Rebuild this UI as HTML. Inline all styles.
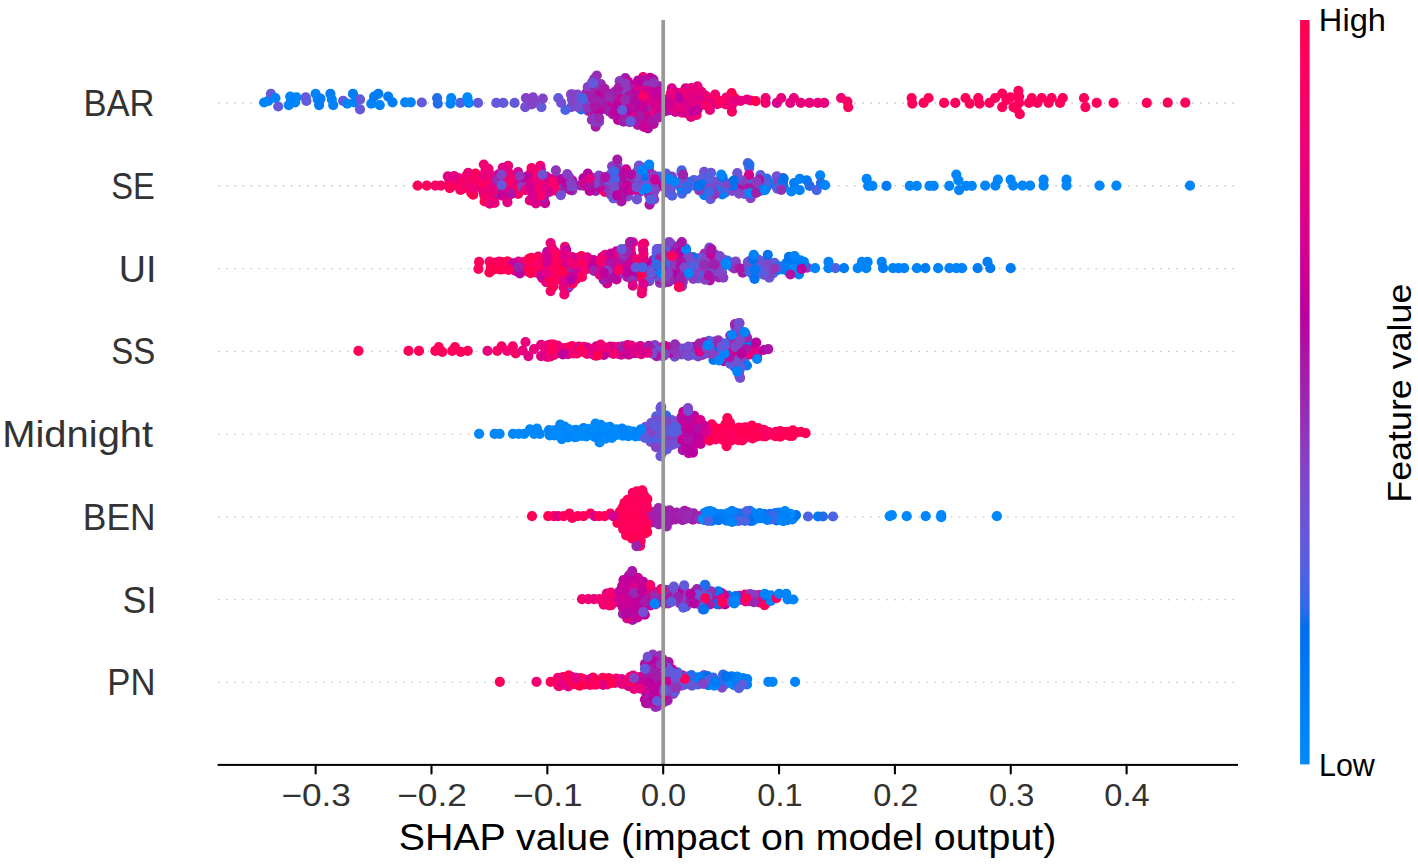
<!DOCTYPE html>
<html><head><meta charset="utf-8"><style>
html,body{margin:0;padding:0;background:#fff;}
svg{display:block;}
text{font-family:"Liberation Sans",sans-serif;}
circle{r:5.1px;}
</style></head><body>
<svg width="1418" height="866" viewBox="0 0 1418 866">
<defs><linearGradient id="cb" x1="0" y1="1" x2="0" y2="0">
<stop offset="0.000" stop-color="#008bfb"/>
<stop offset="0.030" stop-color="#0086fa"/>
<stop offset="0.061" stop-color="#0082f8"/>
<stop offset="0.091" stop-color="#007ef6"/>
<stop offset="0.121" stop-color="#0079f3"/>
<stop offset="0.152" stop-color="#0074f0"/>
<stop offset="0.182" stop-color="#006fed"/>
<stop offset="0.212" stop-color="#306ae9"/>
<stop offset="0.242" stop-color="#4664e4"/>
<stop offset="0.273" stop-color="#575fdf"/>
<stop offset="0.303" stop-color="#6459da"/>
<stop offset="0.333" stop-color="#6f52d4"/>
<stop offset="0.364" stop-color="#794cce"/>
<stop offset="0.394" stop-color="#8244c7"/>
<stop offset="0.424" stop-color="#8a3cc0"/>
<stop offset="0.455" stop-color="#9233b9"/>
<stop offset="0.485" stop-color="#9829b1"/>
<stop offset="0.515" stop-color="#a01fab"/>
<stop offset="0.545" stop-color="#aa17a7"/>
<stop offset="0.576" stop-color="#b30aa3"/>
<stop offset="0.606" stop-color="#bc009f"/>
<stop offset="0.636" stop-color="#c5009a"/>
<stop offset="0.667" stop-color="#cd0095"/>
<stop offset="0.697" stop-color="#d40090"/>
<stop offset="0.727" stop-color="#db008a"/>
<stop offset="0.758" stop-color="#e10084"/>
<stop offset="0.788" stop-color="#e7007e"/>
<stop offset="0.818" stop-color="#ec0078"/>
<stop offset="0.848" stop-color="#f10072"/>
<stop offset="0.879" stop-color="#f6006c"/>
<stop offset="0.909" stop-color="#fa0065"/>
<stop offset="0.939" stop-color="#fd005f"/>
<stop offset="0.970" stop-color="#ff0058"/>
<stop offset="1.000" stop-color="#ff0051"/>
<stop offset="1" stop-color="#ff0051"/>
</linearGradient></defs>
<line x1="218.3" y1="103.00" x2="1238" y2="103.00" stroke="#c8c8c8" stroke-width="1.3" stroke-dasharray="1.6 6.448"/>
<line x1="218.3" y1="185.77" x2="1238" y2="185.77" stroke="#c8c8c8" stroke-width="1.3" stroke-dasharray="1.6 6.448"/>
<line x1="218.3" y1="268.54" x2="1238" y2="268.54" stroke="#c8c8c8" stroke-width="1.3" stroke-dasharray="1.6 6.448"/>
<line x1="218.3" y1="351.31" x2="1238" y2="351.31" stroke="#c8c8c8" stroke-width="1.3" stroke-dasharray="1.6 6.448"/>
<line x1="218.3" y1="434.08" x2="1238" y2="434.08" stroke="#c8c8c8" stroke-width="1.3" stroke-dasharray="1.6 6.448"/>
<line x1="218.3" y1="516.85" x2="1238" y2="516.85" stroke="#c8c8c8" stroke-width="1.3" stroke-dasharray="1.6 6.448"/>
<line x1="218.3" y1="599.62" x2="1238" y2="599.62" stroke="#c8c8c8" stroke-width="1.3" stroke-dasharray="1.6 6.448"/>
<line x1="218.3" y1="682.39" x2="1238" y2="682.39" stroke="#c8c8c8" stroke-width="1.3" stroke-dasharray="1.6 6.448"/>
<g><circle cx="594.1" cy="113.0" r="5.1" fill="#8d39bd"/><circle cx="697.5" cy="86.4" r="5.1" fill="#ea007b"/><circle cx="750.6" cy="100.5" r="5.1" fill="#fb0062"/><circle cx="711.6" cy="98.8" r="5.1" fill="#f80068"/><circle cx="658.4" cy="86.2" r="5.1" fill="#a11fab"/><circle cx="605.3" cy="94.3" r="5.1" fill="#9d21ac"/><circle cx="595.1" cy="94.6" r="5.1" fill="#ac14a6"/><circle cx="650.2" cy="77.9" r="5.1" fill="#bc009f"/><circle cx="586.6" cy="92.5" r="5.1" fill="#a71aa9"/><circle cx="593.6" cy="92.4" r="5.1" fill="#ad14a6"/><circle cx="685.2" cy="98.6" r="5.1" fill="#dd0089"/><circle cx="653.6" cy="123.8" r="5.1" fill="#b10da4"/><circle cx="643.3" cy="121.7" r="5.1" fill="#ce0094"/><circle cx="633.0" cy="110.9" r="5.1" fill="#ad13a6"/><circle cx="715.2" cy="100.6" r="5.1" fill="#e9007c"/><circle cx="592.2" cy="87.0" r="5.1" fill="#9829b1"/><circle cx="571.9" cy="99.6" r="5.1" fill="#6b55d7"/><circle cx="657.2" cy="106.9" r="5.1" fill="#bb00a0"/><circle cx="681.9" cy="102.3" r="5.1" fill="#de0087"/><circle cx="628.3" cy="91.2" r="5.1" fill="#9a25ae"/><circle cx="606.0" cy="109.3" r="5.1" fill="#9a25ae"/><circle cx="731.9" cy="111.6" r="5.1" fill="#fd005f"/><circle cx="615.4" cy="101.6" r="5.1" fill="#ca0097"/><circle cx="573.2" cy="94.7" r="5.1" fill="#7e48cb"/><circle cx="617.9" cy="114.0" r="5.1" fill="#bf009d"/><circle cx="596.9" cy="116.2" r="5.1" fill="#8b3bbf"/><circle cx="647.6" cy="105.4" r="5.1" fill="#9d22ac"/><circle cx="599.7" cy="106.9" r="5.1" fill="#9332b7"/><circle cx="639.9" cy="111.8" r="5.1" fill="#b507a2"/><circle cx="717.0" cy="104.1" r="5.1" fill="#e7007e"/><circle cx="598.0" cy="90.9" r="5.1" fill="#9430b6"/><circle cx="634.3" cy="107.3" r="5.1" fill="#c2009b"/><circle cx="709.9" cy="110.0" r="5.1" fill="#e60080"/><circle cx="643.2" cy="101.2" r="5.1" fill="#bb009f"/><circle cx="595.7" cy="126.6" r="5.1" fill="#a819a8"/><circle cx="581.6" cy="103.9" r="5.1" fill="#8a3dc1"/><circle cx="680.7" cy="107.9" r="5.1" fill="#de0087"/><circle cx="663.9" cy="111.7" r="5.1" fill="#cf0093"/><circle cx="654.5" cy="107.7" r="5.1" fill="#b10da4"/><circle cx="649.6" cy="123.0" r="5.1" fill="#af11a5"/><circle cx="650.2" cy="112.1" r="5.1" fill="#9e21ac"/><circle cx="658.3" cy="95.5" r="5.1" fill="#b30aa3"/><circle cx="654.9" cy="94.0" r="5.1" fill="#bf009d"/><circle cx="591.9" cy="119.9" r="5.1" fill="#9331b6"/><circle cx="595.0" cy="109.5" r="5.1" fill="#7a4bcd"/><circle cx="642.8" cy="110.7" r="5.1" fill="#b30ba3"/><circle cx="732.3" cy="103.0" r="5.1" fill="#e50080"/><circle cx="649.0" cy="95.1" r="5.1" fill="#b20da4"/><circle cx="677.1" cy="92.9" r="5.1" fill="#cd0094"/><circle cx="620.3" cy="110.1" r="5.1" fill="#cd0094"/><circle cx="608.6" cy="103.1" r="5.1" fill="#9430b6"/><circle cx="596.6" cy="100.3" r="5.1" fill="#952db4"/><circle cx="705.1" cy="101.0" r="5.1" fill="#fd005f"/><circle cx="647.9" cy="128.5" r="5.1" fill="#b10da4"/><circle cx="662.8" cy="100.1" r="5.1" fill="#b703a1"/><circle cx="571.2" cy="107.2" r="5.1" fill="#784cce"/><circle cx="649.8" cy="117.4" r="5.1" fill="#d20091"/><circle cx="587.7" cy="87.1" r="5.1" fill="#8740c3"/><circle cx="615.8" cy="106.6" r="5.1" fill="#ab16a7"/><circle cx="600.9" cy="84.2" r="5.1" fill="#942fb5"/><circle cx="642.6" cy="85.8" r="5.1" fill="#af11a5"/><circle cx="637.9" cy="119.8" r="5.1" fill="#da008b"/><circle cx="685.6" cy="88.4" r="5.1" fill="#d20091"/><circle cx="690.2" cy="102.3" r="5.1" fill="#e7007e"/><circle cx="635.6" cy="122.4" r="5.1" fill="#c90097"/><circle cx="663.9" cy="105.5" r="5.1" fill="#9f20ab"/><circle cx="595.8" cy="90.2" r="5.1" fill="#9b24ad"/><circle cx="605.8" cy="99.2" r="5.1" fill="#9b23ad"/><circle cx="681.8" cy="112.6" r="5.1" fill="#f90067"/><circle cx="653.4" cy="79.7" r="5.1" fill="#b605a2"/><circle cx="701.5" cy="91.9" r="5.1" fill="#e8007e"/><circle cx="608.3" cy="107.0" r="5.1" fill="#cb0096"/><circle cx="577.7" cy="94.7" r="5.1" fill="#7e48cb"/><circle cx="618.8" cy="94.0" r="5.1" fill="#bf009d"/><circle cx="588.4" cy="110.8" r="5.1" fill="#a11eab"/><circle cx="685.9" cy="112.9" r="5.1" fill="#c60099"/><circle cx="709.5" cy="104.3" r="5.1" fill="#d8008c"/><circle cx="639.8" cy="85.1" r="5.1" fill="#b900a0"/><circle cx="668.5" cy="110.4" r="5.1" fill="#af10a5"/><circle cx="618.1" cy="120.0" r="5.1" fill="#bf009d"/><circle cx="624.8" cy="95.4" r="5.1" fill="#b506a2"/><circle cx="682.2" cy="92.7" r="5.1" fill="#ec0079"/><circle cx="643.1" cy="77.2" r="5.1" fill="#eb007a"/><circle cx="695.3" cy="98.5" r="5.1" fill="#e7007e"/><circle cx="628.5" cy="117.3" r="5.1" fill="#b802a1"/><circle cx="634.8" cy="85.9" r="5.1" fill="#d8008c"/><circle cx="625.3" cy="78.1" r="5.1" fill="#a51ba9"/><circle cx="596.8" cy="75.5" r="5.1" fill="#952eb5"/><circle cx="622.8" cy="111.5" r="5.1" fill="#d7008d"/><circle cx="577.9" cy="106.2" r="5.1" fill="#6857d8"/><circle cx="618.4" cy="103.8" r="5.1" fill="#b703a1"/><circle cx="705.6" cy="95.5" r="5.1" fill="#f10073"/><circle cx="609.8" cy="111.7" r="5.1" fill="#9b24ad"/><circle cx="652.4" cy="119.4" r="5.1" fill="#ab16a7"/><circle cx="620.4" cy="98.6" r="5.1" fill="#ce0094"/><circle cx="692.8" cy="96.3" r="5.1" fill="#da008a"/><circle cx="595.6" cy="84.1" r="5.1" fill="#9927af"/><circle cx="628.8" cy="86.3" r="5.1" fill="#9a25ae"/><circle cx="603.2" cy="104.5" r="5.1" fill="#a819a8"/><circle cx="598.7" cy="111.3" r="5.1" fill="#c0009d"/><circle cx="630.1" cy="106.5" r="5.1" fill="#aa17a7"/><circle cx="673.1" cy="98.3" r="5.1" fill="#c90097"/><circle cx="654.8" cy="112.3" r="5.1" fill="#ea007b"/><circle cx="731.4" cy="97.6" r="5.1" fill="#f7006b"/><circle cx="581.2" cy="109.3" r="5.1" fill="#226cea"/><circle cx="595.5" cy="121.9" r="5.1" fill="#8d3abe"/><circle cx="599.1" cy="121.8" r="5.1" fill="#8b3bbf"/><circle cx="658.8" cy="112.3" r="5.1" fill="#cd0095"/><circle cx="695.0" cy="102.6" r="5.1" fill="#e10084"/><circle cx="614.8" cy="91.9" r="5.1" fill="#9927af"/><circle cx="625.5" cy="106.7" r="5.1" fill="#9828b0"/><circle cx="735.1" cy="98.4" r="5.1" fill="#fc0060"/><circle cx="656.7" cy="91.2" r="5.1" fill="#b900a0"/><circle cx="747.0" cy="99.5" r="5.1" fill="#e50081"/><circle cx="644.9" cy="80.2" r="5.1" fill="#b10fa4"/><circle cx="639.8" cy="100.1" r="5.1" fill="#cd0094"/><circle cx="612.9" cy="114.3" r="5.1" fill="#ac15a6"/><circle cx="657.3" cy="101.0" r="5.1" fill="#b900a0"/><circle cx="592.1" cy="82.4" r="5.1" fill="#8542c5"/><circle cx="614.5" cy="111.7" r="5.1" fill="#bb00a0"/><circle cx="740.6" cy="100.8" r="5.1" fill="#e8007d"/><circle cx="635.1" cy="92.6" r="5.1" fill="#c3009b"/><circle cx="675.5" cy="112.0" r="5.1" fill="#cc0095"/><circle cx="696.8" cy="91.9" r="5.1" fill="#ec0079"/><circle cx="640.5" cy="105.2" r="5.1" fill="#b506a2"/><circle cx="677.5" cy="103.1" r="5.1" fill="#da008b"/><circle cx="586.5" cy="101.3" r="5.1" fill="#9232b7"/><circle cx="613.0" cy="96.1" r="5.1" fill="#a819a8"/><circle cx="609.9" cy="94.0" r="5.1" fill="#a21eaa"/><circle cx="731.6" cy="93.0" r="5.1" fill="#ff0051"/><circle cx="629.5" cy="101.7" r="5.1" fill="#c60099"/><circle cx="647.5" cy="100.1" r="5.1" fill="#e60080"/><circle cx="725.7" cy="104.5" r="5.1" fill="#f00074"/><circle cx="699.6" cy="98.9" r="5.1" fill="#de0087"/><circle cx="591.7" cy="108.2" r="5.1" fill="#b20ca4"/><circle cx="719.6" cy="103.1" r="5.1" fill="#ed0077"/><circle cx="633.8" cy="95.8" r="5.1" fill="#b900a0"/><circle cx="655.4" cy="98.3" r="5.1" fill="#cc0095"/><circle cx="676.4" cy="107.5" r="5.1" fill="#e8007e"/><circle cx="696.6" cy="114.9" r="5.1" fill="#f5006d"/><circle cx="654.2" cy="89.3" r="5.1" fill="#c3009b"/><circle cx="628.1" cy="81.8" r="5.1" fill="#c60099"/><circle cx="668.4" cy="98.6" r="5.1" fill="#b010a5"/><circle cx="638.9" cy="89.2" r="5.1" fill="#db008a"/><circle cx="726.2" cy="97.5" r="5.1" fill="#f10072"/><circle cx="639.2" cy="95.1" r="5.1" fill="#b20ca4"/><circle cx="755.7" cy="101.2" r="5.1" fill="#ff0051"/><circle cx="675.5" cy="98.4" r="5.1" fill="#ec0079"/><circle cx="691.2" cy="106.5" r="5.1" fill="#e10084"/><circle cx="700.9" cy="105.3" r="5.1" fill="#eb007a"/><circle cx="587.2" cy="95.8" r="5.1" fill="#a21eaa"/><circle cx="644.0" cy="115.8" r="5.1" fill="#ce0094"/><circle cx="587.7" cy="107.7" r="5.1" fill="#9233b8"/><circle cx="647.7" cy="85.3" r="5.1" fill="#8f36bb"/><circle cx="628.1" cy="111.6" r="5.1" fill="#b901a0"/><circle cx="691.0" cy="116.9" r="5.1" fill="#e8007d"/><circle cx="686.3" cy="104.9" r="5.1" fill="#dc0089"/><circle cx="715.1" cy="94.6" r="5.1" fill="#f5006d"/><circle cx="598.5" cy="95.5" r="5.1" fill="#c2009b"/><circle cx="624.5" cy="117.6" r="5.1" fill="#a918a8"/><circle cx="644.8" cy="91.2" r="5.1" fill="#dd0088"/><circle cx="654.5" cy="104.2" r="5.1" fill="#d6008e"/><circle cx="697.3" cy="109.8" r="5.1" fill="#c80098"/><circle cx="624.7" cy="90.0" r="5.1" fill="#893ec1"/><circle cx="638.1" cy="80.7" r="5.1" fill="#bc009f"/><circle cx="634.6" cy="117.1" r="5.1" fill="#da008a"/><circle cx="629.1" cy="96.0" r="5.1" fill="#ad14a6"/><circle cx="686.7" cy="109.3" r="5.1" fill="#e00086"/><circle cx="648.1" cy="90.8" r="5.1" fill="#ca0097"/><circle cx="583.1" cy="99.1" r="5.1" fill="#4c63e3"/><circle cx="731.5" cy="106.6" r="5.1" fill="#f10072"/><circle cx="642.8" cy="105.3" r="5.1" fill="#c90097"/><circle cx="707.5" cy="105.9" r="5.1" fill="#f6006c"/><circle cx="604.6" cy="88.9" r="5.1" fill="#a719a8"/><circle cx="645.6" cy="97.3" r="5.1" fill="#d30090"/><circle cx="690.1" cy="91.8" r="5.1" fill="#de0088"/><circle cx="680.0" cy="97.7" r="5.1" fill="#ba00a0"/><circle cx="637.9" cy="125.0" r="5.1" fill="#ac15a6"/><circle cx="639.8" cy="116.4" r="5.1" fill="#a819a8"/><circle cx="719.4" cy="100.9" r="5.1" fill="#fd005f"/><circle cx="577.0" cy="99.9" r="5.1" fill="#744fd1"/><circle cx="691.1" cy="88.0" r="5.1" fill="#e6007f"/><circle cx="658.0" cy="117.7" r="5.1" fill="#a719a8"/><circle cx="625.3" cy="100.0" r="5.1" fill="#952eb5"/><circle cx="692.2" cy="111.5" r="5.1" fill="#c5009a"/><circle cx="593.1" cy="102.3" r="5.1" fill="#8541c5"/><circle cx="619.6" cy="81.1" r="5.1" fill="#8e38bc"/><circle cx="672.8" cy="108.4" r="5.1" fill="#e20083"/><circle cx="644.1" cy="127.0" r="5.1" fill="#cc0095"/><circle cx="598.1" cy="101.3" r="5.1" fill="#9c23ad"/><circle cx="671.1" cy="103.9" r="5.1" fill="#da008b"/><circle cx="635.0" cy="101.0" r="5.1" fill="#b408a3"/><circle cx="671.8" cy="88.4" r="5.1" fill="#d30090"/><circle cx="618.3" cy="88.0" r="5.1" fill="#a819a8"/><circle cx="629.6" cy="122.2" r="5.1" fill="#9035ba"/><circle cx="594.8" cy="106.1" r="5.1" fill="#aa16a7"/><circle cx="687.2" cy="94.8" r="5.1" fill="#e9007c"/><circle cx="670.9" cy="93.1" r="5.1" fill="#e6007f"/><circle cx="625.5" cy="83.6" r="5.1" fill="#8c3bbf"/><circle cx="592.9" cy="98.2" r="5.1" fill="#a01fab"/><circle cx="735.0" cy="101.4" r="5.1" fill="#e50080"/><circle cx="594.3" cy="78.9" r="5.1" fill="#9430b6"/><circle cx="654.0" cy="82.6" r="5.1" fill="#9331b7"/><circle cx="623.5" cy="121.7" r="5.1" fill="#9f20ab"/><circle cx="668.0" cy="102.9" r="5.1" fill="#ca0097"/><circle cx="599.1" cy="118.1" r="5.1" fill="#972ab1"/><circle cx="609.2" cy="96.8" r="5.1" fill="#9829b1"/><circle cx="264.1" cy="102.5" r="5.1" fill="#0084f9"/><circle cx="268.3" cy="100.9" r="5.1" fill="#0084f9"/><circle cx="270.9" cy="93.8" r="5.1" fill="#6359da"/><circle cx="275.4" cy="98.0" r="5.1" fill="#0084f9"/><circle cx="278.2" cy="106.5" r="5.1" fill="#6359da"/><circle cx="288.8" cy="105.1" r="5.1" fill="#0084f9"/><circle cx="290.2" cy="96.6" r="5.1" fill="#0084f9"/><circle cx="296.5" cy="97.3" r="5.1" fill="#0084f9"/><circle cx="295.1" cy="102.3" r="5.1" fill="#0084f9"/><circle cx="290.9" cy="102.3" r="5.1" fill="#0084f9"/><circle cx="306.4" cy="100.9" r="5.1" fill="#6359da"/><circle cx="305.7" cy="97.3" r="5.1" fill="#6359da"/><circle cx="315.6" cy="93.8" r="5.1" fill="#0084f9"/><circle cx="317.7" cy="99.4" r="5.1" fill="#0084f9"/><circle cx="319.1" cy="105.1" r="5.1" fill="#007cf5"/><circle cx="320.5" cy="98.7" r="5.1" fill="#007cf5"/><circle cx="330.4" cy="93.8" r="5.1" fill="#007cf5"/><circle cx="331.8" cy="99.4" r="5.1" fill="#0084f9"/><circle cx="333.2" cy="105.1" r="5.1" fill="#0084f9"/><circle cx="343.1" cy="100.9" r="5.1" fill="#6359da"/><circle cx="347.3" cy="103.7" r="5.1" fill="#0084f9"/><circle cx="353.0" cy="93.8" r="5.1" fill="#007cf5"/><circle cx="354.4" cy="102.3" r="5.1" fill="#0084f9"/><circle cx="360.0" cy="99.4" r="5.1" fill="#6359da"/><circle cx="360.0" cy="109.3" r="5.1" fill="#6359da"/><circle cx="371.3" cy="103.7" r="5.1" fill="#0084f9"/><circle cx="374.1" cy="96.6" r="5.1" fill="#007cf5"/><circle cx="378.3" cy="93.8" r="5.1" fill="#007cf5"/><circle cx="379.8" cy="105.1" r="5.1" fill="#0084f9"/><circle cx="388.2" cy="96.6" r="5.1" fill="#007cf5"/><circle cx="392.5" cy="102.3" r="5.1" fill="#007cf5"/><circle cx="405.1" cy="102.3" r="5.1" fill="#0084f9"/><circle cx="410.8" cy="102.3" r="5.1" fill="#0084f9"/><circle cx="421.8" cy="102.5" r="5.1" fill="#6359da"/><circle cx="437.1" cy="98.0" r="5.1" fill="#236cea"/><circle cx="437.8" cy="103.6" r="5.1" fill="#236cea"/><circle cx="451.2" cy="98.0" r="5.1" fill="#0084f9"/><circle cx="450.5" cy="103.6" r="5.1" fill="#0084f9"/><circle cx="460.3" cy="102.9" r="5.1" fill="#4b63e3"/><circle cx="467.4" cy="97.3" r="5.1" fill="#0088fa"/><circle cx="468.8" cy="102.9" r="5.1" fill="#0088fa"/><circle cx="478.0" cy="102.9" r="5.1" fill="#6359da"/><circle cx="496.3" cy="102.9" r="5.1" fill="#6359da"/><circle cx="503.3" cy="102.9" r="5.1" fill="#6359da"/><circle cx="514.6" cy="102.9" r="5.1" fill="#6359da"/><circle cx="525.9" cy="98.0" r="5.1" fill="#8443c6"/><circle cx="525.2" cy="107.1" r="5.1" fill="#754fd1"/><circle cx="533.0" cy="97.3" r="5.1" fill="#8443c6"/><circle cx="534.4" cy="102.9" r="5.1" fill="#8443c6"/><circle cx="541.4" cy="107.1" r="5.1" fill="#6359da"/><circle cx="542.8" cy="98.7" r="5.1" fill="#8443c6"/><circle cx="531.6" cy="104.3" r="5.1" fill="#8443c6"/><circle cx="558.3" cy="98.0" r="5.1" fill="#6359da"/><circle cx="561.2" cy="102.9" r="5.1" fill="#754fd1"/><circle cx="565.4" cy="110.0" r="5.1" fill="#4b63e3"/><circle cx="571.0" cy="94.4" r="5.1" fill="#8443c6"/><circle cx="573.9" cy="102.9" r="5.1" fill="#8443c6"/><circle cx="578.1" cy="107.1" r="5.1" fill="#754fd1"/><circle cx="582.3" cy="98.0" r="5.1" fill="#4b63e3"/><circle cx="593.3" cy="83.2" r="5.1" fill="#6359da"/><circle cx="622.2" cy="110.0" r="5.1" fill="#6359da"/><circle cx="630.6" cy="121.2" r="5.1" fill="#6359da"/><circle cx="643.3" cy="95.9" r="5.1" fill="#f90067"/><circle cx="765.6" cy="98.0" r="5.1" fill="#f20072"/><circle cx="765.6" cy="102.9" r="5.1" fill="#f20072"/><circle cx="776.9" cy="102.9" r="5.1" fill="#d5008f"/><circle cx="781.2" cy="98.0" r="5.1" fill="#e9007c"/><circle cx="790.3" cy="102.9" r="5.1" fill="#e9007c"/><circle cx="793.9" cy="98.0" r="5.1" fill="#e9007c"/><circle cx="800.9" cy="102.9" r="5.1" fill="#e9007c"/><circle cx="809.4" cy="102.9" r="5.1" fill="#e9007c"/><circle cx="817.8" cy="102.9" r="5.1" fill="#e9007c"/><circle cx="824.2" cy="102.9" r="5.1" fill="#e9007c"/><circle cx="841.1" cy="98.0" r="5.1" fill="#f20072"/><circle cx="847.4" cy="101.5" r="5.1" fill="#f90067"/><circle cx="848.2" cy="107.1" r="5.1" fill="#fe005c"/><circle cx="911.6" cy="98.0" r="5.1" fill="#fe005c"/><circle cx="912.3" cy="103.6" r="5.1" fill="#fe005c"/><circle cx="923.6" cy="102.9" r="5.1" fill="#fe005c"/><circle cx="928.5" cy="98.0" r="5.1" fill="#fe005c"/><circle cx="944.1" cy="102.9" r="5.1" fill="#fe005c"/><circle cx="955.3" cy="102.9" r="5.1" fill="#fe005c"/><circle cx="965.5" cy="98.0" r="5.1" fill="#fe005c"/><circle cx="969.7" cy="103.6" r="5.1" fill="#fe005c"/><circle cx="978.2" cy="98.0" r="5.1" fill="#fe005c"/><circle cx="979.6" cy="103.6" r="5.1" fill="#fe005c"/><circle cx="989.5" cy="102.9" r="5.1" fill="#fe005c"/><circle cx="995.1" cy="98.0" r="5.1" fill="#fe005c"/><circle cx="1002.2" cy="93.7" r="5.1" fill="#fe005c"/><circle cx="1002.2" cy="107.1" r="5.1" fill="#fe005c"/><circle cx="1006.4" cy="100.1" r="5.1" fill="#fe005c"/><circle cx="1010.6" cy="97.3" r="5.1" fill="#fe005c"/><circle cx="1013.5" cy="107.1" r="5.1" fill="#fe005c"/><circle cx="1018.4" cy="90.9" r="5.1" fill="#fe005c"/><circle cx="1019.1" cy="96.6" r="5.1" fill="#fe005c"/><circle cx="1019.1" cy="102.9" r="5.1" fill="#fe005c"/><circle cx="1019.8" cy="114.2" r="5.1" fill="#fe005c"/><circle cx="1016.3" cy="108.5" r="5.1" fill="#fe005c"/><circle cx="1029.0" cy="102.9" r="5.1" fill="#fe005c"/><circle cx="1031.8" cy="98.0" r="5.1" fill="#fe005c"/><circle cx="1037.4" cy="102.9" r="5.1" fill="#fe005c"/><circle cx="1041.7" cy="98.0" r="5.1" fill="#fe005c"/><circle cx="1048.7" cy="102.9" r="5.1" fill="#fe005c"/><circle cx="1051.6" cy="98.0" r="5.1" fill="#fe005c"/><circle cx="1060.0" cy="102.9" r="5.1" fill="#fe005c"/><circle cx="1062.8" cy="98.0" r="5.1" fill="#fe005c"/><circle cx="1084.0" cy="98.0" r="5.1" fill="#fe005c"/><circle cx="1085.4" cy="107.1" r="5.1" fill="#fe005c"/><circle cx="1096.7" cy="102.9" r="5.1" fill="#fe005c"/><circle cx="1113.6" cy="102.9" r="5.1" fill="#fe005c"/><circle cx="1146.8" cy="102.9" r="5.1" fill="#fe005c"/><circle cx="1167.7" cy="102.7" r="5.1" fill="#fe005c"/><circle cx="1185.3" cy="102.7" r="5.1" fill="#fe005c"/><circle cx="449.4" cy="181.9" r="5.1" fill="#fb0063"/><circle cx="494.6" cy="196.7" r="5.1" fill="#f5006d"/><circle cx="638.9" cy="165.7" r="5.1" fill="#784ccf"/><circle cx="649.5" cy="204.6" r="5.1" fill="#aa16a7"/><circle cx="516.4" cy="184.1" r="5.1" fill="#c4009a"/><circle cx="504.3" cy="184.8" r="5.1" fill="#eb007a"/><circle cx="540.3" cy="165.8" r="5.1" fill="#f5006d"/><circle cx="534.5" cy="182.6" r="5.1" fill="#fb0062"/><circle cx="537.2" cy="200.2" r="5.1" fill="#ef0076"/><circle cx="548.1" cy="184.2" r="5.1" fill="#d20091"/><circle cx="759.9" cy="185.4" r="5.1" fill="#0075f1"/><circle cx="499.8" cy="182.9" r="5.1" fill="#9233b9"/><circle cx="659.2" cy="180.8" r="5.1" fill="#3469e8"/><circle cx="617.1" cy="183.5" r="5.1" fill="#8640c4"/><circle cx="760.4" cy="175.0" r="5.1" fill="#6459da"/><circle cx="560.6" cy="189.5" r="5.1" fill="#8e38bc"/><circle cx="682.0" cy="193.6" r="5.1" fill="#4c63e3"/><circle cx="488.5" cy="168.8" r="5.1" fill="#f10072"/><circle cx="661.1" cy="185.8" r="5.1" fill="#be009e"/><circle cx="639.2" cy="192.2" r="5.1" fill="#e40082"/><circle cx="766.8" cy="178.5" r="5.1" fill="#316ae8"/><circle cx="531.0" cy="172.9" r="5.1" fill="#d20091"/><circle cx="649.0" cy="182.2" r="5.1" fill="#8e38bc"/><circle cx="659.1" cy="176.5" r="5.1" fill="#3b67e7"/><circle cx="677.4" cy="184.7" r="5.1" fill="#0078f3"/><circle cx="666.2" cy="179.0" r="5.1" fill="#8343c6"/><circle cx="493.8" cy="176.9" r="5.1" fill="#ee0076"/><circle cx="702.8" cy="188.7" r="5.1" fill="#5e5bdc"/><circle cx="626.2" cy="180.2" r="5.1" fill="#b20ca4"/><circle cx="595.7" cy="191.0" r="5.1" fill="#9b23ad"/><circle cx="631.4" cy="185.1" r="5.1" fill="#9331b6"/><circle cx="704.3" cy="195.2" r="5.1" fill="#0081f7"/><circle cx="452.4" cy="186.0" r="5.1" fill="#ef0075"/><circle cx="498.6" cy="174.3" r="5.1" fill="#c60099"/><circle cx="470.6" cy="177.3" r="5.1" fill="#e30083"/><circle cx="540.8" cy="169.5" r="5.1" fill="#d8008c"/><circle cx="604.4" cy="183.4" r="5.1" fill="#b00fa5"/><circle cx="643.4" cy="190.4" r="5.1" fill="#008bfb"/><circle cx="487.1" cy="188.5" r="5.1" fill="#d00092"/><circle cx="715.5" cy="187.6" r="5.1" fill="#942fb5"/><circle cx="508.2" cy="196.0" r="5.1" fill="#f80068"/><circle cx="748.6" cy="183.3" r="5.1" fill="#7251d2"/><circle cx="572.4" cy="180.7" r="5.1" fill="#a818a8"/><circle cx="749.8" cy="178.8" r="5.1" fill="#5061e1"/><circle cx="545.2" cy="180.7" r="5.1" fill="#bb00a0"/><circle cx="725.2" cy="192.6" r="5.1" fill="#4565e4"/><circle cx="754.1" cy="186.7" r="5.1" fill="#774dcf"/><circle cx="628.9" cy="176.3" r="5.1" fill="#a020ab"/><circle cx="518.1" cy="194.0" r="5.1" fill="#f7006a"/><circle cx="485.3" cy="170.8" r="5.1" fill="#f00074"/><circle cx="572.3" cy="190.4" r="5.1" fill="#8145c8"/><circle cx="626.1" cy="169.4" r="5.1" fill="#d00093"/><circle cx="617.5" cy="165.0" r="5.1" fill="#764ed0"/><circle cx="472.6" cy="179.7" r="5.1" fill="#f6006b"/><circle cx="583.4" cy="178.3" r="5.1" fill="#b901a0"/><circle cx="699.2" cy="190.3" r="5.1" fill="#8d39bd"/><circle cx="772.5" cy="183.9" r="5.1" fill="#007ff6"/><circle cx="514.1" cy="183.0" r="5.1" fill="#de0087"/><circle cx="484.3" cy="195.6" r="5.1" fill="#f7006a"/><circle cx="583.6" cy="185.7" r="5.1" fill="#c1009c"/><circle cx="608.7" cy="185.9" r="5.1" fill="#5a5dde"/><circle cx="541.4" cy="175.5" r="5.1" fill="#e7007f"/><circle cx="666.2" cy="186.5" r="5.1" fill="#893ec1"/><circle cx="776.7" cy="176.3" r="5.1" fill="#7251d2"/><circle cx="650.3" cy="173.1" r="5.1" fill="#6b55d7"/><circle cx="738.2" cy="182.6" r="5.1" fill="#0074f0"/><circle cx="743.8" cy="186.5" r="5.1" fill="#a21eaa"/><circle cx="604.8" cy="191.9" r="5.1" fill="#f6006c"/><circle cx="557.5" cy="178.7" r="5.1" fill="#8e38bd"/><circle cx="649.9" cy="177.7" r="5.1" fill="#7c4acc"/><circle cx="541.8" cy="186.5" r="5.1" fill="#fd005f"/><circle cx="593.7" cy="178.2" r="5.1" fill="#9c23ad"/><circle cx="704.1" cy="171.8" r="5.1" fill="#754fd1"/><circle cx="487.4" cy="194.0" r="5.1" fill="#f80068"/><circle cx="749.2" cy="168.0" r="5.1" fill="#6b55d6"/><circle cx="502.3" cy="178.9" r="5.1" fill="#a917a7"/><circle cx="491.6" cy="181.8" r="5.1" fill="#f90067"/><circle cx="703.0" cy="177.3" r="5.1" fill="#585edf"/><circle cx="460.4" cy="182.8" r="5.1" fill="#ff0051"/><circle cx="540.0" cy="190.6" r="5.1" fill="#f4006f"/><circle cx="710.2" cy="182.5" r="5.1" fill="#007af4"/><circle cx="512.9" cy="178.4" r="5.1" fill="#f00074"/><circle cx="620.9" cy="181.3" r="5.1" fill="#9828b0"/><circle cx="681.4" cy="188.4" r="5.1" fill="#007ff6"/><circle cx="677.7" cy="182.9" r="5.1" fill="#8542c5"/><circle cx="765.7" cy="183.6" r="5.1" fill="#605adb"/><circle cx="560.7" cy="193.8" r="5.1" fill="#7f47ca"/><circle cx="617.0" cy="198.0" r="5.1" fill="#7e48cb"/><circle cx="518.3" cy="178.2" r="5.1" fill="#e40082"/><circle cx="497.8" cy="193.4" r="5.1" fill="#9f20ab"/><circle cx="492.1" cy="191.7" r="5.1" fill="#e8007e"/><circle cx="670.3" cy="190.8" r="5.1" fill="#9c23ad"/><circle cx="449.8" cy="188.1" r="5.1" fill="#ff0059"/><circle cx="558.5" cy="187.1" r="5.1" fill="#a51ba9"/><circle cx="620.4" cy="172.6" r="5.1" fill="#b801a1"/><circle cx="782.0" cy="184.4" r="5.1" fill="#0074f0"/><circle cx="487.1" cy="183.8" r="5.1" fill="#ed0078"/><circle cx="608.5" cy="189.4" r="5.1" fill="#9233b8"/><circle cx="599.7" cy="186.9" r="5.1" fill="#cc0095"/><circle cx="750.6" cy="198.2" r="5.1" fill="#8542c5"/><circle cx="471.3" cy="192.9" r="5.1" fill="#ff0051"/><circle cx="613.4" cy="193.1" r="5.1" fill="#cf0093"/><circle cx="460.4" cy="189.9" r="5.1" fill="#ff0058"/><circle cx="569.9" cy="189.6" r="5.1" fill="#b604a2"/><circle cx="529.8" cy="200.4" r="5.1" fill="#e40082"/><circle cx="522.7" cy="181.3" r="5.1" fill="#a11fab"/><circle cx="550.5" cy="178.8" r="5.1" fill="#d30090"/><circle cx="722.2" cy="194.3" r="5.1" fill="#0080f7"/><circle cx="667.3" cy="192.4" r="5.1" fill="#6a55d7"/><circle cx="494.3" cy="187.6" r="5.1" fill="#de0087"/><circle cx="599.1" cy="182.5" r="5.1" fill="#9928b0"/><circle cx="653.3" cy="193.7" r="5.1" fill="#962db4"/><circle cx="487.4" cy="177.7" r="5.1" fill="#f5006d"/><circle cx="562.2" cy="178.9" r="5.1" fill="#b10da4"/><circle cx="479.5" cy="187.1" r="5.1" fill="#e40082"/><circle cx="631.7" cy="180.3" r="5.1" fill="#9430b6"/><circle cx="649.0" cy="189.3" r="5.1" fill="#8c3abe"/><circle cx="627.9" cy="196.3" r="5.1" fill="#7c4acc"/><circle cx="649.2" cy="195.0" r="5.1" fill="#a31daa"/><circle cx="507.4" cy="187.1" r="5.1" fill="#f3006f"/><circle cx="644.2" cy="167.7" r="5.1" fill="#6558d9"/><circle cx="528.0" cy="184.0" r="5.1" fill="#dd0088"/><circle cx="594.7" cy="183.5" r="5.1" fill="#7f47ca"/><circle cx="747.8" cy="163.1" r="5.1" fill="#5e5cdc"/><circle cx="503.9" cy="174.8" r="5.1" fill="#ce0094"/><circle cx="778.9" cy="182.4" r="5.1" fill="#893ec1"/><circle cx="540.0" cy="181.1" r="5.1" fill="#f4006f"/><circle cx="508.1" cy="165.8" r="5.1" fill="#f10073"/><circle cx="710.5" cy="199.2" r="5.1" fill="#6558d9"/><circle cx="499.0" cy="189.5" r="5.1" fill="#f6006b"/><circle cx="612.1" cy="166.3" r="5.1" fill="#8a3cc0"/><circle cx="527.3" cy="176.4" r="5.1" fill="#c80098"/><circle cx="531.9" cy="177.3" r="5.1" fill="#c2009c"/><circle cx="569.1" cy="177.2" r="5.1" fill="#8f37bb"/><circle cx="637.1" cy="171.4" r="5.1" fill="#6757d8"/><circle cx="502.8" cy="190.8" r="5.1" fill="#a51ba9"/><circle cx="782.6" cy="178.1" r="5.1" fill="#6e53d5"/><circle cx="760.3" cy="190.8" r="5.1" fill="#316ae9"/><circle cx="612.3" cy="181.7" r="5.1" fill="#6c54d6"/><circle cx="655.1" cy="189.8" r="5.1" fill="#8344c7"/><circle cx="580.1" cy="185.3" r="5.1" fill="#9e21ac"/><circle cx="648.8" cy="168.1" r="5.1" fill="#9926af"/><circle cx="621.6" cy="187.6" r="5.1" fill="#a11fab"/><circle cx="749.0" cy="174.9" r="5.1" fill="#d5008e"/><circle cx="536.2" cy="194.0" r="5.1" fill="#ec0078"/><circle cx="478.1" cy="182.0" r="5.1" fill="#f3006f"/><circle cx="783.1" cy="181.9" r="5.1" fill="#0077f2"/><circle cx="494.5" cy="202.9" r="5.1" fill="#f30070"/><circle cx="750.2" cy="188.4" r="5.1" fill="#ab16a7"/><circle cx="483.3" cy="191.8" r="5.1" fill="#ee0077"/><circle cx="653.4" cy="186.3" r="5.1" fill="#7e48cb"/><circle cx="507.1" cy="192.2" r="5.1" fill="#e30082"/><circle cx="473.8" cy="184.6" r="5.1" fill="#f80067"/><circle cx="694.2" cy="185.7" r="5.1" fill="#5b5ddd"/><circle cx="744.5" cy="193.9" r="5.1" fill="#5c5ddd"/><circle cx="558.1" cy="190.7" r="5.1" fill="#007cf5"/><circle cx="732.3" cy="190.9" r="5.1" fill="#7f47ca"/><circle cx="738.5" cy="188.1" r="5.1" fill="#b10da4"/><circle cx="670.8" cy="182.6" r="5.1" fill="#8740c4"/><circle cx="621.4" cy="197.1" r="5.1" fill="#bd009e"/><circle cx="686.9" cy="189.2" r="5.1" fill="#2e6ae9"/><circle cx="468.5" cy="182.6" r="5.1" fill="#ff0051"/><circle cx="555.9" cy="190.6" r="5.1" fill="#ff0051"/><circle cx="475.5" cy="173.5" r="5.1" fill="#ff0051"/><circle cx="725.3" cy="187.3" r="5.1" fill="#555fe0"/><circle cx="716.8" cy="181.7" r="5.1" fill="#774dcf"/><circle cx="733.1" cy="185.7" r="5.1" fill="#0074f0"/><circle cx="468.2" cy="172.8" r="5.1" fill="#e9007c"/><circle cx="612.0" cy="177.1" r="5.1" fill="#9332b7"/><circle cx="711.0" cy="172.9" r="5.1" fill="#6558d9"/><circle cx="623.2" cy="191.5" r="5.1" fill="#a819a8"/><circle cx="698.4" cy="180.7" r="5.1" fill="#615adb"/><circle cx="514.2" cy="188.5" r="5.1" fill="#e7007e"/><circle cx="642.9" cy="174.7" r="5.1" fill="#0085f9"/><circle cx="610.8" cy="174.1" r="5.1" fill="#6b55d6"/><circle cx="546.2" cy="176.7" r="5.1" fill="#d10092"/><circle cx="502.2" cy="195.6" r="5.1" fill="#ca0096"/><circle cx="535.2" cy="187.5" r="5.1" fill="#fa0065"/><circle cx="470.7" cy="187.7" r="5.1" fill="#ee0076"/><circle cx="559.2" cy="183.6" r="5.1" fill="#6d54d6"/><circle cx="739.1" cy="193.6" r="5.1" fill="#7e48cb"/><circle cx="518.2" cy="189.7" r="5.1" fill="#ff0059"/><circle cx="759.2" cy="179.8" r="5.1" fill="#ae12a5"/><circle cx="653.5" cy="175.3" r="5.1" fill="#8b3cbf"/><circle cx="737.3" cy="173.2" r="5.1" fill="#6c54d6"/><circle cx="507.6" cy="170.7" r="5.1" fill="#e50081"/><circle cx="556.2" cy="181.6" r="5.1" fill="#c60099"/><circle cx="514.1" cy="175.2" r="5.1" fill="#ee0077"/><circle cx="703.7" cy="184.1" r="5.1" fill="#0078f3"/><circle cx="511.3" cy="193.9" r="5.1" fill="#b010a5"/><circle cx="554.5" cy="186.9" r="5.1" fill="#f5006c"/><circle cx="627.0" cy="185.9" r="5.1" fill="#c90097"/><circle cx="447.8" cy="176.3" r="5.1" fill="#e10084"/><circle cx="565.3" cy="188.1" r="5.1" fill="#9f20ac"/><circle cx="709.6" cy="187.4" r="5.1" fill="#7d49cb"/><circle cx="683.0" cy="181.8" r="5.1" fill="#575fdf"/><circle cx="654.2" cy="199.4" r="5.1" fill="#794cce"/><circle cx="536.7" cy="178.1" r="5.1" fill="#ef0075"/><circle cx="783.6" cy="186.6" r="5.1" fill="#196deb"/><circle cx="627.6" cy="190.5" r="5.1" fill="#b900a0"/><circle cx="457.8" cy="177.9" r="5.1" fill="#fa0065"/><circle cx="484.6" cy="201.5" r="5.1" fill="#ff0058"/><circle cx="489.5" cy="173.9" r="5.1" fill="#e8007d"/><circle cx="632.1" cy="190.1" r="5.1" fill="#cd0095"/><circle cx="756.6" cy="181.9" r="5.1" fill="#8c3abe"/><circle cx="545.0" cy="191.1" r="5.1" fill="#d7008d"/><circle cx="466.5" cy="175.6" r="5.1" fill="#f00074"/><circle cx="766.3" cy="187.7" r="5.1" fill="#4166e6"/><circle cx="589.7" cy="190.8" r="5.1" fill="#c1009c"/><circle cx="473.2" cy="194.7" r="5.1" fill="#ff0054"/><circle cx="571.9" cy="186.3" r="5.1" fill="#7d49cb"/><circle cx="473.2" cy="188.5" r="5.1" fill="#ee0077"/><circle cx="616.9" cy="170.1" r="5.1" fill="#a21eaa"/><circle cx="485.3" cy="187.0" r="5.1" fill="#ef0076"/><circle cx="584.9" cy="183.4" r="5.1" fill="#d6008e"/><circle cx="542.4" cy="201.2" r="5.1" fill="#e30082"/><circle cx="609.0" cy="179.0" r="5.1" fill="#7c4acc"/><circle cx="455.1" cy="180.0" r="5.1" fill="#f30070"/><circle cx="617.3" cy="174.6" r="5.1" fill="#a11fab"/><circle cx="535.9" cy="203.4" r="5.1" fill="#dc0089"/><circle cx="508.1" cy="180.7" r="5.1" fill="#fa0065"/><circle cx="502.7" cy="167.8" r="5.1" fill="#df0086"/><circle cx="616.5" cy="189.1" r="5.1" fill="#c5009a"/><circle cx="671.2" cy="186.1" r="5.1" fill="#6956d8"/><circle cx="587.8" cy="173.7" r="5.1" fill="#b507a2"/><circle cx="489.7" cy="203.6" r="5.1" fill="#e50080"/><circle cx="709.2" cy="178.3" r="5.1" fill="#5161e1"/><circle cx="532.1" cy="183.1" r="5.1" fill="#e20083"/><circle cx="681.5" cy="172.7" r="5.1" fill="#3769e8"/><circle cx="643.5" cy="179.6" r="5.1" fill="#0070ee"/><circle cx="536.8" cy="172.2" r="5.1" fill="#f4006f"/><circle cx="463.5" cy="188.4" r="5.1" fill="#f90066"/><circle cx="531.5" cy="168.0" r="5.1" fill="#f4006f"/><circle cx="655.0" cy="179.6" r="5.1" fill="#cb0096"/><circle cx="672.1" cy="195.7" r="5.1" fill="#5161e1"/><circle cx="777.4" cy="188.7" r="5.1" fill="#4b63e3"/><circle cx="549.4" cy="191.9" r="5.1" fill="#d7008d"/><circle cx="720.3" cy="189.2" r="5.1" fill="#3569e8"/><circle cx="497.2" cy="179.7" r="5.1" fill="#982ab1"/><circle cx="621.4" cy="176.9" r="5.1" fill="#b40aa3"/><circle cx="781.3" cy="189.9" r="5.1" fill="#9430b6"/><circle cx="614.7" cy="178.9" r="5.1" fill="#4964e3"/><circle cx="545.1" cy="203.1" r="5.1" fill="#c90097"/><circle cx="565.7" cy="182.2" r="5.1" fill="#c2009b"/><circle cx="693.7" cy="180.2" r="5.1" fill="#5260e1"/><circle cx="545.8" cy="186.5" r="5.1" fill="#e20083"/><circle cx="567.2" cy="174.2" r="5.1" fill="#8740c3"/><circle cx="714.3" cy="194.5" r="5.1" fill="#9134b9"/><circle cx="522.0" cy="186.9" r="5.1" fill="#8a3dc1"/><circle cx="614.2" cy="187.6" r="5.1" fill="#744fd1"/><circle cx="525.4" cy="190.1" r="5.1" fill="#f00074"/><circle cx="637.0" cy="199.4" r="5.1" fill="#6e53d5"/><circle cx="482.9" cy="182.1" r="5.1" fill="#fd0060"/><circle cx="750.7" cy="193.1" r="5.1" fill="#0088fa"/><circle cx="611.1" cy="194.9" r="5.1" fill="#8640c4"/><circle cx="488.0" cy="197.0" r="5.1" fill="#f30070"/><circle cx="687.6" cy="181.8" r="5.1" fill="#306ae9"/><circle cx="543.8" cy="197.4" r="5.1" fill="#ad13a6"/><circle cx="637.2" cy="182.4" r="5.1" fill="#8c3abe"/><circle cx="682.7" cy="177.6" r="5.1" fill="#774dcf"/><circle cx="650.5" cy="199.5" r="5.1" fill="#565fdf"/><circle cx="532.6" cy="194.3" r="5.1" fill="#d7008d"/><circle cx="722.7" cy="182.4" r="5.1" fill="#6d54d5"/><circle cx="727.2" cy="183.4" r="5.1" fill="#8046c9"/><circle cx="666.1" cy="173.7" r="5.1" fill="#575fdf"/><circle cx="636.5" cy="187.2" r="5.1" fill="#7052d4"/><circle cx="709.4" cy="192.1" r="5.1" fill="#3b68e7"/><circle cx="756.1" cy="192.9" r="5.1" fill="#a21eaa"/><circle cx="465.7" cy="183.7" r="5.1" fill="#f3006f"/><circle cx="454.1" cy="176.1" r="5.1" fill="#e00086"/><circle cx="637.1" cy="177.0" r="5.1" fill="#6e53d5"/><circle cx="631.0" cy="174.5" r="5.1" fill="#b40aa3"/><circle cx="698.4" cy="185.8" r="5.1" fill="#0072ef"/><circle cx="589.5" cy="185.4" r="5.1" fill="#ad13a6"/><circle cx="621.4" cy="201.4" r="5.1" fill="#ad14a6"/><circle cx="644.7" cy="185.3" r="5.1" fill="#6d54d5"/><circle cx="722.5" cy="177.2" r="5.1" fill="#0072ef"/><circle cx="507.4" cy="176.7" r="5.1" fill="#f20072"/><circle cx="613.5" cy="198.4" r="5.1" fill="#6a55d7"/><circle cx="742.2" cy="180.3" r="5.1" fill="#873fc3"/><circle cx="570.8" cy="183.0" r="5.1" fill="#8740c3"/><circle cx="541.1" cy="195.3" r="5.1" fill="#f5006d"/><circle cx="671.9" cy="176.7" r="5.1" fill="#8244c7"/><circle cx="617.1" cy="195.3" r="5.1" fill="#be009e"/><circle cx="482.8" cy="176.3" r="5.1" fill="#ea007b"/><circle cx="599.0" cy="175.7" r="5.1" fill="#8740c3"/><circle cx="529.6" cy="187.7" r="5.1" fill="#d30091"/><circle cx="605.2" cy="177.2" r="5.1" fill="#af11a5"/><circle cx="783.7" cy="178.5" r="5.1" fill="#0070ed"/><circle cx="553.0" cy="181.9" r="5.1" fill="#f70069"/><circle cx="483.8" cy="164.5" r="5.1" fill="#f10073"/><circle cx="522.7" cy="177.5" r="5.1" fill="#bd009e"/><circle cx="507.4" cy="202.2" r="5.1" fill="#e50081"/><circle cx="614.1" cy="171.4" r="5.1" fill="#3b68e7"/><circle cx="518.1" cy="172.0" r="5.1" fill="#d30090"/><circle cx="737.7" cy="177.8" r="5.1" fill="#6d53d5"/><circle cx="589.7" cy="178.5" r="5.1" fill="#e20084"/><circle cx="617.3" cy="159.7" r="5.1" fill="#a51ba9"/><circle cx="733.7" cy="180.7" r="5.1" fill="#0070ed"/><circle cx="417.6" cy="185.6" r="5.1" fill="#fe005c"/><circle cx="426.8" cy="185.6" r="5.1" fill="#fe005c"/><circle cx="435.3" cy="185.6" r="5.1" fill="#f90067"/><circle cx="440.9" cy="185.6" r="5.1" fill="#f90067"/><circle cx="501.6" cy="185.2" r="5.1" fill="#6359da"/><circle cx="501.6" cy="174.6" r="5.1" fill="#8443c6"/><circle cx="542.5" cy="174.6" r="5.1" fill="#754fd1"/><circle cx="560.8" cy="195.1" r="5.1" fill="#754fd1"/><circle cx="519.9" cy="176.0" r="5.1" fill="#9135ba"/><circle cx="555.9" cy="170.4" r="5.1" fill="#9135ba"/><circle cx="649.2" cy="164.7" r="5.1" fill="#0084f9"/><circle cx="642.2" cy="170.4" r="5.1" fill="#0084f9"/><circle cx="646.4" cy="188.7" r="5.1" fill="#0084f9"/><circle cx="669.0" cy="178.9" r="5.1" fill="#0084f9"/><circle cx="674.6" cy="181.7" r="5.1" fill="#0084f9"/><circle cx="681.7" cy="170.4" r="5.1" fill="#4b63e3"/><circle cx="721.2" cy="174.6" r="5.1" fill="#0084f9"/><circle cx="749.4" cy="164.7" r="5.1" fill="#236cea"/><circle cx="764.9" cy="190.1" r="5.1" fill="#0084f9"/><circle cx="683.1" cy="174.6" r="5.1" fill="#9b23ad"/><circle cx="791.3" cy="191.5" r="5.1" fill="#0084f9"/><circle cx="794.1" cy="183.1" r="5.1" fill="#007cf5"/><circle cx="799.7" cy="178.9" r="5.1" fill="#0084f9"/><circle cx="799.7" cy="190.1" r="5.1" fill="#0084f9"/><circle cx="806.8" cy="180.3" r="5.1" fill="#007cf5"/><circle cx="809.6" cy="185.9" r="5.1" fill="#236cea"/><circle cx="816.7" cy="190.1" r="5.1" fill="#4b63e3"/><circle cx="820.2" cy="175.3" r="5.1" fill="#0084f9"/><circle cx="820.9" cy="183.1" r="5.1" fill="#236cea"/><circle cx="825.1" cy="185.2" r="5.1" fill="#0086fa"/><circle cx="866.7" cy="178.9" r="5.1" fill="#0086fa"/><circle cx="868.2" cy="185.9" r="5.1" fill="#0086fa"/><circle cx="872.4" cy="185.9" r="5.1" fill="#0086fa"/><circle cx="886.5" cy="185.9" r="5.1" fill="#007cf5"/><circle cx="909.8" cy="185.9" r="5.1" fill="#0086fa"/><circle cx="916.8" cy="185.9" r="5.1" fill="#0086fa"/><circle cx="929.5" cy="185.9" r="5.1" fill="#0086fa"/><circle cx="933.7" cy="185.9" r="5.1" fill="#0086fa"/><circle cx="949.3" cy="185.9" r="5.1" fill="#0086fa"/><circle cx="956.3" cy="174.6" r="5.1" fill="#0086fa"/><circle cx="958.4" cy="180.3" r="5.1" fill="#0086fa"/><circle cx="959.1" cy="190.1" r="5.1" fill="#0086fa"/><circle cx="966.2" cy="185.9" r="5.1" fill="#0086fa"/><circle cx="971.8" cy="185.9" r="5.1" fill="#0086fa"/><circle cx="985.2" cy="185.6" r="5.1" fill="#0086fa"/><circle cx="995.4" cy="185.6" r="5.1" fill="#0086fa"/><circle cx="997.9" cy="179.7" r="5.1" fill="#0086fa"/><circle cx="1010.6" cy="179.7" r="5.1" fill="#0086fa"/><circle cx="1013.2" cy="185.6" r="5.1" fill="#0086fa"/><circle cx="1022.5" cy="185.6" r="5.1" fill="#0086fa"/><circle cx="1030.1" cy="185.6" r="5.1" fill="#0086fa"/><circle cx="1043.6" cy="179.7" r="5.1" fill="#0086fa"/><circle cx="1043.6" cy="185.6" r="5.1" fill="#0086fa"/><circle cx="1066.5" cy="179.7" r="5.1" fill="#0086fa"/><circle cx="1066.5" cy="185.6" r="5.1" fill="#0086fa"/><circle cx="1099.5" cy="185.6" r="5.1" fill="#0086fa"/><circle cx="1116.4" cy="185.6" r="5.1" fill="#0086fa"/><circle cx="1190.0" cy="185.6" r="5.1" fill="#0086fa"/><circle cx="576.5" cy="262.2" r="5.1" fill="#e9007c"/><circle cx="524.2" cy="268.0" r="5.1" fill="#ff0055"/><circle cx="602.0" cy="262.5" r="5.1" fill="#ee0076"/><circle cx="754.5" cy="256.5" r="5.1" fill="#8641c4"/><circle cx="607.1" cy="283.4" r="5.1" fill="#d30090"/><circle cx="773.0" cy="273.5" r="5.1" fill="#5e5bdc"/><circle cx="565.5" cy="272.4" r="5.1" fill="#c2009b"/><circle cx="698.5" cy="258.3" r="5.1" fill="#8f37bb"/><circle cx="684.4" cy="258.4" r="5.1" fill="#952eb4"/><circle cx="795.6" cy="258.7" r="5.1" fill="#007df6"/><circle cx="603.7" cy="267.5" r="5.1" fill="#b20ca4"/><circle cx="615.8" cy="275.8" r="5.1" fill="#ff0051"/><circle cx="627.3" cy="276.9" r="5.1" fill="#ab15a7"/><circle cx="597.5" cy="263.7" r="5.1" fill="#e50081"/><circle cx="801.8" cy="264.7" r="5.1" fill="#007df6"/><circle cx="765.3" cy="260.9" r="5.1" fill="#7f47ca"/><circle cx="538.2" cy="256.7" r="5.1" fill="#e50081"/><circle cx="660.0" cy="282.9" r="5.1" fill="#9134b9"/><circle cx="632.9" cy="242.4" r="5.1" fill="#e6007f"/><circle cx="792.0" cy="270.2" r="5.1" fill="#0086fa"/><circle cx="501.9" cy="269.3" r="5.1" fill="#ff0059"/><circle cx="723.4" cy="259.7" r="5.1" fill="#6d54d5"/><circle cx="774.5" cy="262.9" r="5.1" fill="#5c5ddd"/><circle cx="546.2" cy="282.1" r="5.1" fill="#e6007f"/><circle cx="582.2" cy="267.2" r="5.1" fill="#ff0051"/><circle cx="698.2" cy="278.5" r="5.1" fill="#6f53d4"/><circle cx="552.2" cy="275.5" r="5.1" fill="#e7007e"/><circle cx="680.9" cy="252.2" r="5.1" fill="#b802a1"/><circle cx="733.0" cy="262.6" r="5.1" fill="#136eec"/><circle cx="605.2" cy="278.0" r="5.1" fill="#b409a3"/><circle cx="616.6" cy="261.6" r="5.1" fill="#e8007d"/><circle cx="582.3" cy="271.9" r="5.1" fill="#ee0076"/><circle cx="663.8" cy="282.8" r="5.1" fill="#9232b8"/><circle cx="547.2" cy="251.9" r="5.1" fill="#b10ea4"/><circle cx="732.5" cy="267.2" r="5.1" fill="#4066e6"/><circle cx="624.2" cy="269.1" r="5.1" fill="#8443c6"/><circle cx="649.4" cy="281.1" r="5.1" fill="#8343c6"/><circle cx="573.4" cy="266.5" r="5.1" fill="#e30083"/><circle cx="629.9" cy="258.3" r="5.1" fill="#ce0094"/><circle cx="711.0" cy="264.0" r="5.1" fill="#c2009c"/><circle cx="564.3" cy="294.4" r="5.1" fill="#f30070"/><circle cx="700.9" cy="265.3" r="5.1" fill="#575edf"/><circle cx="628.7" cy="266.4" r="5.1" fill="#cd0094"/><circle cx="660.5" cy="273.1" r="5.1" fill="#893ec2"/><circle cx="696.2" cy="269.7" r="5.1" fill="#8b3cbf"/><circle cx="571.2" cy="259.4" r="5.1" fill="#9232b8"/><circle cx="530.4" cy="262.9" r="5.1" fill="#ff0051"/><circle cx="569.2" cy="267.8" r="5.1" fill="#a41caa"/><circle cx="622.7" cy="264.4" r="5.1" fill="#d10092"/><circle cx="648.9" cy="268.8" r="5.1" fill="#a11fab"/><circle cx="659.8" cy="279.5" r="5.1" fill="#aa17a7"/><circle cx="769.3" cy="277.7" r="5.1" fill="#7251d3"/><circle cx="652.2" cy="264.2" r="5.1" fill="#9a26ae"/><circle cx="668.6" cy="282.0" r="5.1" fill="#9b23ad"/><circle cx="575.6" cy="268.7" r="5.1" fill="#ec0079"/><circle cx="660.4" cy="248.8" r="5.1" fill="#893dc1"/><circle cx="587.3" cy="269.0" r="5.1" fill="#f80067"/><circle cx="527.7" cy="271.3" r="5.1" fill="#ff005a"/><circle cx="557.8" cy="265.2" r="5.1" fill="#fe005d"/><circle cx="515.6" cy="271.0" r="5.1" fill="#d40090"/><circle cx="511.2" cy="263.6" r="5.1" fill="#f90066"/><circle cx="568.0" cy="287.8" r="5.1" fill="#df0086"/><circle cx="489.5" cy="261.5" r="5.1" fill="#f80068"/><circle cx="696.9" cy="264.2" r="5.1" fill="#8145c8"/><circle cx="682.7" cy="282.3" r="5.1" fill="#8542c5"/><circle cx="704.3" cy="273.6" r="5.1" fill="#7a4bce"/><circle cx="709.4" cy="247.6" r="5.1" fill="#7b4acc"/><circle cx="800.5" cy="268.8" r="5.1" fill="#0082f8"/><circle cx="759.5" cy="271.8" r="5.1" fill="#0076f1"/><circle cx="661.8" cy="264.2" r="5.1" fill="#9a26af"/><circle cx="539.3" cy="269.0" r="5.1" fill="#ff005b"/><circle cx="495.3" cy="262.7" r="5.1" fill="#ff0051"/><circle cx="665.4" cy="258.9" r="5.1" fill="#af11a5"/><circle cx="641.6" cy="264.3" r="5.1" fill="#fa0065"/><circle cx="670.3" cy="278.7" r="5.1" fill="#8d39bd"/><circle cx="727.3" cy="260.7" r="5.1" fill="#326ae8"/><circle cx="656.8" cy="275.9" r="5.1" fill="#6558d9"/><circle cx="693.4" cy="272.4" r="5.1" fill="#9a26af"/><circle cx="636.5" cy="259.4" r="5.1" fill="#fc0061"/><circle cx="663.8" cy="269.7" r="5.1" fill="#972bb3"/><circle cx="800.4" cy="260.3" r="5.1" fill="#0087fa"/><circle cx="807.2" cy="267.7" r="5.1" fill="#883fc3"/><circle cx="553.4" cy="260.5" r="5.1" fill="#dc0089"/><circle cx="670.7" cy="243.7" r="5.1" fill="#4e62e2"/><circle cx="518.4" cy="261.5" r="5.1" fill="#e00085"/><circle cx="769.0" cy="273.3" r="5.1" fill="#8244c7"/><circle cx="565.0" cy="246.8" r="5.1" fill="#f30070"/><circle cx="565.9" cy="283.4" r="5.1" fill="#d6008e"/><circle cx="710.1" cy="270.1" r="5.1" fill="#b802a1"/><circle cx="653.2" cy="260.1" r="5.1" fill="#9c23ad"/><circle cx="684.1" cy="253.4" r="5.1" fill="#9829b1"/><circle cx="499.5" cy="269.5" r="5.1" fill="#ff0051"/><circle cx="552.3" cy="270.3" r="5.1" fill="#fc0060"/><circle cx="569.8" cy="286.0" r="5.1" fill="#8442c5"/><circle cx="693.0" cy="257.0" r="5.1" fill="#096fec"/><circle cx="663.5" cy="254.4" r="5.1" fill="#744fd1"/><circle cx="752.4" cy="266.4" r="5.1" fill="#0079f3"/><circle cx="549.4" cy="258.5" r="5.1" fill="#f4006f"/><circle cx="687.9" cy="262.8" r="5.1" fill="#6e53d5"/><circle cx="704.5" cy="253.6" r="5.1" fill="#962db3"/><circle cx="721.9" cy="265.1" r="5.1" fill="#6658d9"/><circle cx="581.4" cy="256.2" r="5.1" fill="#ff0051"/><circle cx="616.4" cy="251.4" r="5.1" fill="#cd0094"/><circle cx="587.5" cy="264.4" r="5.1" fill="#f00074"/><circle cx="649.6" cy="263.9" r="5.1" fill="#bb009f"/><circle cx="681.3" cy="270.2" r="5.1" fill="#8b3bbf"/><circle cx="716.9" cy="274.0" r="5.1" fill="#9134b9"/><circle cx="742.6" cy="272.7" r="5.1" fill="#a818a8"/><circle cx="602.1" cy="257.2" r="5.1" fill="#cf0093"/><circle cx="669.3" cy="267.4" r="5.1" fill="#893ec1"/><circle cx="638.4" cy="264.2" r="5.1" fill="#f7006a"/><circle cx="673.2" cy="274.2" r="5.1" fill="#af11a5"/><circle cx="787.6" cy="271.0" r="5.1" fill="#0086f9"/><circle cx="642.2" cy="289.3" r="5.1" fill="#ff0052"/><circle cx="662.5" cy="277.9" r="5.1" fill="#7c49cc"/><circle cx="656.7" cy="252.5" r="5.1" fill="#4365e5"/><circle cx="490.8" cy="266.8" r="5.1" fill="#ff0051"/><circle cx="661.5" cy="254.2" r="5.1" fill="#962cb3"/><circle cx="625.9" cy="248.8" r="5.1" fill="#794cce"/><circle cx="576.3" cy="279.1" r="5.1" fill="#db008a"/><circle cx="550.6" cy="291.1" r="5.1" fill="#f4006e"/><circle cx="661.0" cy="269.9" r="5.1" fill="#8a3cc0"/><circle cx="538.2" cy="266.7" r="5.1" fill="#e7007f"/><circle cx="804.0" cy="261.9" r="5.1" fill="#0081f7"/><circle cx="656.5" cy="259.0" r="5.1" fill="#3d67e6"/><circle cx="683.8" cy="278.0" r="5.1" fill="#8443c6"/><circle cx="593.0" cy="265.3" r="5.1" fill="#b604a2"/><circle cx="782.5" cy="269.3" r="5.1" fill="#007df5"/><circle cx="628.3" cy="256.3" r="5.1" fill="#9c22ac"/><circle cx="630.9" cy="265.9" r="5.1" fill="#b508a3"/><circle cx="610.2" cy="273.6" r="5.1" fill="#bf009d"/><circle cx="598.5" cy="271.0" r="5.1" fill="#eb007a"/><circle cx="552.3" cy="255.4" r="5.1" fill="#f5006d"/><circle cx="735.8" cy="261.5" r="5.1" fill="#8245c7"/><circle cx="554.2" cy="275.2" r="5.1" fill="#ff0056"/><circle cx="679.9" cy="256.1" r="5.1" fill="#972ab2"/><circle cx="531.4" cy="257.9" r="5.1" fill="#ff0051"/><circle cx="678.3" cy="269.8" r="5.1" fill="#952eb5"/><circle cx="622.6" cy="251.7" r="5.1" fill="#893dc1"/><circle cx="675.3" cy="279.9" r="5.1" fill="#972ab2"/><circle cx="571.0" cy="263.1" r="5.1" fill="#cd0094"/><circle cx="795.4" cy="269.4" r="5.1" fill="#774dcf"/><circle cx="631.6" cy="269.4" r="5.1" fill="#ae12a5"/><circle cx="499.1" cy="261.7" r="5.1" fill="#f5006d"/><circle cx="643.4" cy="258.0" r="5.1" fill="#dc0089"/><circle cx="606.4" cy="260.7" r="5.1" fill="#7b4acc"/><circle cx="651.7" cy="269.6" r="5.1" fill="#8443c6"/><circle cx="642.5" cy="244.6" r="5.1" fill="#d7008d"/><circle cx="507.7" cy="261.4" r="5.1" fill="#ff0051"/><circle cx="753.7" cy="275.9" r="5.1" fill="#0077f2"/><circle cx="678.4" cy="275.0" r="5.1" fill="#b604a2"/><circle cx="543.3" cy="267.6" r="5.1" fill="#f10073"/><circle cx="683.0" cy="261.4" r="5.1" fill="#8a3cc0"/><circle cx="709.8" cy="280.3" r="5.1" fill="#b10fa4"/><circle cx="673.9" cy="269.6" r="5.1" fill="#b901a0"/><circle cx="641.9" cy="278.5" r="5.1" fill="#f00073"/><circle cx="565.9" cy="268.0" r="5.1" fill="#8f37bc"/><circle cx="734.2" cy="268.5" r="5.1" fill="#9331b7"/><circle cx="686.1" cy="251.7" r="5.1" fill="#7f47ca"/><circle cx="700.1" cy="270.9" r="5.1" fill="#8046c9"/><circle cx="745.2" cy="268.6" r="5.1" fill="#774dcf"/><circle cx="763.8" cy="274.7" r="5.1" fill="#7052d4"/><circle cx="616.5" cy="279.5" r="5.1" fill="#c50099"/><circle cx="685.5" cy="272.9" r="5.1" fill="#6259db"/><circle cx="722.0" cy="272.2" r="5.1" fill="#5b5dde"/><circle cx="661.2" cy="268.2" r="5.1" fill="#a41caa"/><circle cx="763.5" cy="266.4" r="5.1" fill="#7d49cc"/><circle cx="550.6" cy="243.0" r="5.1" fill="#e9007c"/><circle cx="650.6" cy="277.6" r="5.1" fill="#5a5dde"/><circle cx="513.1" cy="263.3" r="5.1" fill="#c90097"/><circle cx="795.9" cy="263.4" r="5.1" fill="#007cf5"/><circle cx="519.9" cy="273.5" r="5.1" fill="#b901a0"/><circle cx="572.7" cy="283.3" r="5.1" fill="#ff0056"/><circle cx="623.2" cy="273.6" r="5.1" fill="#9331b7"/><circle cx="761.2" cy="266.7" r="5.1" fill="#5b5dde"/><circle cx="679.6" cy="245.4" r="5.1" fill="#dc0089"/><circle cx="718.9" cy="266.6" r="5.1" fill="#625adb"/><circle cx="626.5" cy="272.3" r="5.1" fill="#bf009d"/><circle cx="755.8" cy="264.9" r="5.1" fill="#5061e1"/><circle cx="641.8" cy="293.5" r="5.1" fill="#f10073"/><circle cx="710.9" cy="259.7" r="5.1" fill="#9e21ac"/><circle cx="702.0" cy="258.4" r="5.1" fill="#5d5cdd"/><circle cx="577.6" cy="257.9" r="5.1" fill="#f5006d"/><circle cx="750.0" cy="272.2" r="5.1" fill="#3d67e6"/><circle cx="566.7" cy="262.2" r="5.1" fill="#c1009c"/><circle cx="718.9" cy="277.5" r="5.1" fill="#a21eaa"/><circle cx="524.2" cy="261.9" r="5.1" fill="#e8007d"/><circle cx="716.1" cy="259.4" r="5.1" fill="#9926af"/><circle cx="612.3" cy="268.6" r="5.1" fill="#af10a5"/><circle cx="688.1" cy="266.9" r="5.1" fill="#0079f3"/><circle cx="740.0" cy="268.4" r="5.1" fill="#ac14a6"/><circle cx="556.7" cy="280.0" r="5.1" fill="#f6006b"/><circle cx="626.9" cy="262.5" r="5.1" fill="#cb0096"/><circle cx="757.6" cy="273.4" r="5.1" fill="#5360e0"/><circle cx="674.5" cy="253.8" r="5.1" fill="#794cce"/><circle cx="693.4" cy="263.0" r="5.1" fill="#7350d2"/><circle cx="594.0" cy="270.9" r="5.1" fill="#9d22ac"/><circle cx="527.1" cy="264.3" r="5.1" fill="#f20071"/><circle cx="754.6" cy="279.0" r="5.1" fill="#0075f1"/><circle cx="659.1" cy="262.7" r="5.1" fill="#8d39bd"/><circle cx="635.9" cy="269.6" r="5.1" fill="#d9008c"/><circle cx="572.1" cy="257.1" r="5.1" fill="#d40090"/><circle cx="676.0" cy="260.3" r="5.1" fill="#8c3abe"/><circle cx="715.2" cy="254.6" r="5.1" fill="#7f47ca"/><circle cx="790.2" cy="264.3" r="5.1" fill="#0078f3"/><circle cx="641.6" cy="269.5" r="5.1" fill="#fa0065"/><circle cx="564.0" cy="277.7" r="5.1" fill="#ff005b"/><circle cx="637.5" cy="275.8" r="5.1" fill="#ff0051"/><circle cx="777.4" cy="270.1" r="5.1" fill="#0085f9"/><circle cx="515.1" cy="267.3" r="5.1" fill="#bd009e"/><circle cx="536.3" cy="261.9" r="5.1" fill="#f7006a"/><circle cx="670.0" cy="258.0" r="5.1" fill="#8b3cc0"/><circle cx="575.8" cy="273.0" r="5.1" fill="#e30082"/><circle cx="612.0" cy="259.6" r="5.1" fill="#b605a2"/><circle cx="648.1" cy="276.0" r="5.1" fill="#7a4bcd"/><circle cx="668.8" cy="248.0" r="5.1" fill="#972bb3"/><circle cx="643.4" cy="284.2" r="5.1" fill="#da008a"/><circle cx="573.7" cy="271.5" r="5.1" fill="#d10092"/><circle cx="535.4" cy="272.3" r="5.1" fill="#fc0061"/><circle cx="555.5" cy="265.1" r="5.1" fill="#ff005a"/><circle cx="552.1" cy="284.0" r="5.1" fill="#f6006b"/><circle cx="630.6" cy="248.8" r="5.1" fill="#e30083"/><circle cx="786.2" cy="263.2" r="5.1" fill="#007ef6"/><circle cx="563.1" cy="260.8" r="5.1" fill="#e30083"/><circle cx="704.7" cy="259.2" r="5.1" fill="#8047c9"/><circle cx="593.6" cy="260.1" r="5.1" fill="#c1009c"/><circle cx="779.1" cy="266.3" r="5.1" fill="#2f6ae9"/><circle cx="605.2" cy="254.8" r="5.1" fill="#e50080"/><circle cx="750.6" cy="260.4" r="5.1" fill="#8740c3"/><circle cx="618.5" cy="256.1" r="5.1" fill="#ee0076"/><circle cx="518.3" cy="267.4" r="5.1" fill="#9e21ac"/><circle cx="562.8" cy="266.9" r="5.1" fill="#d10092"/><circle cx="704.5" cy="268.3" r="5.1" fill="#8c3abe"/><circle cx="723.3" cy="277.7" r="5.1" fill="#893dc1"/><circle cx="553.1" cy="286.6" r="5.1" fill="#ff0051"/><circle cx="665.4" cy="266.1" r="5.1" fill="#a918a8"/><circle cx="686.9" cy="272.6" r="5.1" fill="#7350d2"/><circle cx="669.9" cy="251.9" r="5.1" fill="#b10ea4"/><circle cx="661.7" cy="258.5" r="5.1" fill="#8145c8"/><circle cx="758.6" cy="259.8" r="5.1" fill="#7251d2"/><circle cx="704.3" cy="264.6" r="5.1" fill="#942fb5"/><circle cx="617.6" cy="266.6" r="5.1" fill="#ea007b"/><circle cx="762.9" cy="270.7" r="5.1" fill="#4f62e2"/><circle cx="557.2" cy="275.6" r="5.1" fill="#f90067"/><circle cx="600.3" cy="260.3" r="5.1" fill="#f5006c"/><circle cx="544.5" cy="257.9" r="5.1" fill="#f7006a"/><circle cx="557.6" cy="260.7" r="5.1" fill="#ff0054"/><circle cx="749.3" cy="267.0" r="5.1" fill="#3b68e7"/><circle cx="505.3" cy="268.4" r="5.1" fill="#ff0051"/><circle cx="679.4" cy="263.7" r="5.1" fill="#8a3dc1"/><circle cx="666.1" cy="275.0" r="5.1" fill="#7e48cb"/><circle cx="542.7" cy="278.5" r="5.1" fill="#e30082"/><circle cx="555.0" cy="251.8" r="5.1" fill="#e8007d"/><circle cx="747.8" cy="262.1" r="5.1" fill="#774dcf"/><circle cx="603.5" cy="279.6" r="5.1" fill="#9e21ac"/><circle cx="631.1" cy="253.4" r="5.1" fill="#dc0089"/><circle cx="643.1" cy="249.6" r="5.1" fill="#e10085"/><circle cx="714.3" cy="271.0" r="5.1" fill="#6d54d5"/><circle cx="693.6" cy="266.9" r="5.1" fill="#5261e1"/><circle cx="621.8" cy="259.3" r="5.1" fill="#ac15a6"/><circle cx="676.6" cy="258.3" r="5.1" fill="#be009e"/><circle cx="632.5" cy="274.6" r="5.1" fill="#b801a1"/><circle cx="718.1" cy="271.9" r="5.1" fill="#8344c6"/><circle cx="539.4" cy="257.8" r="5.1" fill="#ff005a"/><circle cx="566.3" cy="250.1" r="5.1" fill="#c4009a"/><circle cx="529.0" cy="258.8" r="5.1" fill="#ff0051"/><circle cx="681.9" cy="286.3" r="5.1" fill="#9134b9"/><circle cx="701.0" cy="276.2" r="5.1" fill="#3868e7"/><circle cx="632.4" cy="280.3" r="5.1" fill="#9331b7"/><circle cx="720.6" cy="262.0" r="5.1" fill="#8e38bc"/><circle cx="548.7" cy="276.4" r="5.1" fill="#ff0058"/><circle cx="582.0" cy="276.9" r="5.1" fill="#fc0061"/><circle cx="660.1" cy="258.1" r="5.1" fill="#a51ca9"/><circle cx="632.8" cy="285.6" r="5.1" fill="#df0086"/><circle cx="530.6" cy="273.1" r="5.1" fill="#ff0051"/><circle cx="599.8" cy="274.7" r="5.1" fill="#e50081"/><circle cx="543.0" cy="274.2" r="5.1" fill="#ff0059"/><circle cx="618.5" cy="269.9" r="5.1" fill="#f7006a"/><circle cx="670.6" cy="264.0" r="5.1" fill="#4964e3"/><circle cx="548.3" cy="267.9" r="5.1" fill="#ea007c"/><circle cx="607.2" cy="265.4" r="5.1" fill="#ee0076"/><circle cx="677.9" cy="246.5" r="5.1" fill="#9b23ad"/><circle cx="689.0" cy="257.3" r="5.1" fill="#7e48ca"/><circle cx="569.9" cy="273.3" r="5.1" fill="#9f20ab"/><circle cx="564.3" cy="252.4" r="5.1" fill="#cb0096"/><circle cx="726.9" cy="264.7" r="5.1" fill="#0082f8"/><circle cx="544.0" cy="261.6" r="5.1" fill="#f90066"/><circle cx="759.5" cy="263.1" r="5.1" fill="#6f52d4"/><circle cx="558.4" cy="254.6" r="5.1" fill="#f4006f"/><circle cx="611.1" cy="263.1" r="5.1" fill="#b010a5"/><circle cx="654.7" cy="271.5" r="5.1" fill="#3e67e6"/><circle cx="551.9" cy="247.9" r="5.1" fill="#f00074"/><circle cx="571.9" cy="263.6" r="5.1" fill="#f10073"/><circle cx="668.0" cy="273.1" r="5.1" fill="#8740c3"/><circle cx="582.7" cy="261.8" r="5.1" fill="#fd005f"/><circle cx="685.6" cy="248.3" r="5.1" fill="#8c3bbf"/><circle cx="611.0" cy="253.5" r="5.1" fill="#c90097"/><circle cx="674.4" cy="265.0" r="5.1" fill="#8d39be"/><circle cx="643.5" cy="253.8" r="5.1" fill="#ec0078"/><circle cx="665.8" cy="247.8" r="5.1" fill="#5d5cdd"/><circle cx="572.2" cy="276.9" r="5.1" fill="#cb0096"/><circle cx="555.7" cy="255.6" r="5.1" fill="#fe005d"/><circle cx="787.3" cy="266.4" r="5.1" fill="#007cf5"/><circle cx="695.7" cy="273.1" r="5.1" fill="#8344c7"/><circle cx="587.2" cy="257.3" r="5.1" fill="#e7007f"/><circle cx="546.8" cy="255.4" r="5.1" fill="#d4008f"/><circle cx="681.2" cy="262.3" r="5.1" fill="#af11a5"/><circle cx="550.0" cy="263.4" r="5.1" fill="#ff0058"/><circle cx="693.2" cy="278.8" r="5.1" fill="#893ec2"/><circle cx="714.2" cy="264.6" r="5.1" fill="#a11eab"/><circle cx="566.2" cy="255.5" r="5.1" fill="#eb007a"/><circle cx="489.4" cy="272.5" r="5.1" fill="#ff0051"/><circle cx="555.5" cy="271.9" r="5.1" fill="#ff0055"/><circle cx="540.9" cy="275.6" r="5.1" fill="#c90097"/><circle cx="679.5" cy="252.2" r="5.1" fill="#b802a1"/><circle cx="502.2" cy="262.1" r="5.1" fill="#ff0059"/><circle cx="803.1" cy="265.5" r="5.1" fill="#0080f7"/><circle cx="656.3" cy="264.3" r="5.1" fill="#3669e8"/><circle cx="767.5" cy="267.7" r="5.1" fill="#6d54d5"/><circle cx="539.4" cy="263.3" r="5.1" fill="#fa0065"/><circle cx="549.8" cy="279.0" r="5.1" fill="#ff0051"/><circle cx="565.9" cy="278.1" r="5.1" fill="#d8008d"/><circle cx="610.7" cy="278.2" r="5.1" fill="#b10ea4"/><circle cx="766.9" cy="259.6" r="5.1" fill="#555fe0"/><circle cx="789.0" cy="256.9" r="5.1" fill="#0075f1"/><circle cx="680.5" cy="266.6" r="5.1" fill="#b10ea4"/><circle cx="757.6" cy="269.2" r="5.1" fill="#4764e4"/><circle cx="563.4" cy="287.1" r="5.1" fill="#ee0077"/><circle cx="704.9" cy="279.6" r="5.1" fill="#8542c5"/><circle cx="708.6" cy="275.6" r="5.1" fill="#ad13a6"/><circle cx="607.1" cy="270.5" r="5.1" fill="#883fc3"/><circle cx="563.9" cy="256.5" r="5.1" fill="#df0086"/><circle cx="662.4" cy="273.0" r="5.1" fill="#8f37bb"/><circle cx="684.4" cy="267.6" r="5.1" fill="#794cce"/><circle cx="711.2" cy="254.5" r="5.1" fill="#c5009a"/><circle cx="653.0" cy="273.6" r="5.1" fill="#962cb3"/><circle cx="753.3" cy="259.3" r="5.1" fill="#0070ed"/><circle cx="681.3" cy="281.6" r="5.1" fill="#9927af"/><circle cx="530.2" cy="269.8" r="5.1" fill="#ff0051"/><circle cx="563.2" cy="271.9" r="5.1" fill="#ff0058"/><circle cx="643.0" cy="273.1" r="5.1" fill="#ff0051"/><circle cx="564.2" cy="282.5" r="5.1" fill="#e20083"/><circle cx="559.5" cy="269.8" r="5.1" fill="#ff0051"/><circle cx="719.8" cy="256.1" r="5.1" fill="#7b4acd"/><circle cx="662.1" cy="252.2" r="5.1" fill="#9430b6"/><circle cx="623.6" cy="255.0" r="5.1" fill="#9035ba"/><circle cx="553.9" cy="282.0" r="5.1" fill="#fd0060"/><circle cx="547.4" cy="261.9" r="5.1" fill="#d20091"/><circle cx="678.6" cy="281.6" r="5.1" fill="#aa16a7"/><circle cx="604.0" cy="273.0" r="5.1" fill="#be009e"/><circle cx="754.8" cy="269.5" r="5.1" fill="#0077f2"/><circle cx="681.0" cy="276.5" r="5.1" fill="#a020ab"/><circle cx="626.7" cy="251.5" r="5.1" fill="#9a26af"/><circle cx="493.8" cy="269.3" r="5.1" fill="#ff0051"/><circle cx="774.4" cy="268.8" r="5.1" fill="#9135ba"/><circle cx="508.6" cy="269.9" r="5.1" fill="#ff0059"/><circle cx="570.5" cy="279.9" r="5.1" fill="#ba00a0"/><circle cx="767.2" cy="262.9" r="5.1" fill="#7e48ca"/><circle cx="546.9" cy="272.8" r="5.1" fill="#e20084"/><circle cx="479.1" cy="261.9" r="5.1" fill="#fe005c"/><circle cx="478.4" cy="268.9" r="5.1" fill="#fe005c"/><circle cx="621.6" cy="249.2" r="5.1" fill="#6359da"/><circle cx="656.8" cy="249.2" r="5.1" fill="#6359da"/><circle cx="635.7" cy="267.5" r="5.1" fill="#6359da"/><circle cx="642.7" cy="267.5" r="5.1" fill="#4b63e3"/><circle cx="651.2" cy="273.1" r="5.1" fill="#6359da"/><circle cx="661.1" cy="273.1" r="5.1" fill="#0084f9"/><circle cx="555.3" cy="270.3" r="5.1" fill="#fe005c"/><circle cx="630.0" cy="242.1" r="5.1" fill="#ab15a7"/><circle cx="644.1" cy="243.5" r="5.1" fill="#f20072"/><circle cx="671.9" cy="256.2" r="5.1" fill="#fe005c"/><circle cx="679.0" cy="287.2" r="5.1" fill="#fe005c"/><circle cx="688.9" cy="273.1" r="5.1" fill="#0088fa"/><circle cx="686.0" cy="249.2" r="5.1" fill="#0084f9"/><circle cx="725.5" cy="263.3" r="5.1" fill="#0088fa"/><circle cx="711.4" cy="249.2" r="5.1" fill="#ab15a7"/><circle cx="681.8" cy="242.1" r="5.1" fill="#ab15a7"/><circle cx="669.1" cy="242.1" r="5.1" fill="#8443c6"/><circle cx="753.7" cy="254.8" r="5.1" fill="#0084f9"/><circle cx="767.8" cy="254.8" r="5.1" fill="#0074f0"/><circle cx="794.6" cy="256.2" r="5.1" fill="#0084f9"/><circle cx="794.6" cy="268.9" r="5.1" fill="#0088fa"/><circle cx="798.9" cy="274.5" r="5.1" fill="#0084f9"/><circle cx="790.4" cy="274.5" r="5.1" fill="#ab15a7"/><circle cx="801.7" cy="268.9" r="5.1" fill="#bb00a0"/><circle cx="815.1" cy="268.2" r="5.1" fill="#0084f9"/><circle cx="828.5" cy="261.9" r="5.1" fill="#0084f9"/><circle cx="828.5" cy="268.2" r="5.1" fill="#0084f9"/><circle cx="835.5" cy="268.2" r="5.1" fill="#4b63e3"/><circle cx="844.0" cy="268.2" r="5.1" fill="#007cf5"/><circle cx="857.7" cy="268.2" r="5.1" fill="#0084f9"/><circle cx="861.9" cy="261.9" r="5.1" fill="#0084f9"/><circle cx="866.2" cy="268.2" r="5.1" fill="#0084f9"/><circle cx="867.6" cy="261.9" r="5.1" fill="#0084f9"/><circle cx="881.7" cy="261.9" r="5.1" fill="#0084f9"/><circle cx="883.1" cy="268.2" r="5.1" fill="#007cf5"/><circle cx="893.0" cy="268.2" r="5.1" fill="#0084f9"/><circle cx="898.6" cy="268.2" r="5.1" fill="#0084f9"/><circle cx="904.2" cy="268.2" r="5.1" fill="#0084f9"/><circle cx="916.9" cy="268.2" r="5.1" fill="#0084f9"/><circle cx="925.4" cy="268.2" r="5.1" fill="#007cf5"/><circle cx="938.1" cy="268.2" r="5.1" fill="#0084f9"/><circle cx="949.4" cy="268.2" r="5.1" fill="#0084f9"/><circle cx="956.4" cy="268.2" r="5.1" fill="#0084f9"/><circle cx="962.1" cy="268.2" r="5.1" fill="#0084f9"/><circle cx="977.6" cy="268.2" r="5.1" fill="#007cf5"/><circle cx="987.5" cy="261.9" r="5.1" fill="#007cf5"/><circle cx="990.3" cy="268.2" r="5.1" fill="#007cf5"/><circle cx="1010.7" cy="268.2" r="5.1" fill="#007cf5"/><circle cx="634.5" cy="353.1" r="5.1" fill="#da008b"/><circle cx="583.9" cy="346.8" r="5.1" fill="#fb0063"/><circle cx="566.1" cy="353.0" r="5.1" fill="#ec0078"/><circle cx="756.1" cy="350.5" r="5.1" fill="#f00074"/><circle cx="744.3" cy="360.0" r="5.1" fill="#6956d7"/><circle cx="736.2" cy="338.4" r="5.1" fill="#a61ba9"/><circle cx="618.7" cy="346.9" r="5.1" fill="#e50081"/><circle cx="659.3" cy="347.7" r="5.1" fill="#0078f3"/><circle cx="739.4" cy="370.7" r="5.1" fill="#4665e4"/><circle cx="549.2" cy="344.9" r="5.1" fill="#a21eaa"/><circle cx="628.0" cy="354.5" r="5.1" fill="#ee0076"/><circle cx="707.6" cy="342.4" r="5.1" fill="#7c49cc"/><circle cx="663.8" cy="346.6" r="5.1" fill="#962db4"/><circle cx="595.5" cy="355.7" r="5.1" fill="#f90066"/><circle cx="735.6" cy="357.6" r="5.1" fill="#2b6be9"/><circle cx="745.4" cy="333.4" r="5.1" fill="#794cce"/><circle cx="545.0" cy="355.1" r="5.1" fill="#da008a"/><circle cx="598.1" cy="351.0" r="5.1" fill="#ee0076"/><circle cx="654.8" cy="345.1" r="5.1" fill="#8b3bbf"/><circle cx="687.6" cy="349.8" r="5.1" fill="#b10da4"/><circle cx="752.7" cy="343.5" r="5.1" fill="#8740c3"/><circle cx="640.4" cy="346.2" r="5.1" fill="#d40090"/><circle cx="613.5" cy="346.9" r="5.1" fill="#f00074"/><circle cx="578.8" cy="346.5" r="5.1" fill="#ec0079"/><circle cx="632.9" cy="347.3" r="5.1" fill="#de0087"/><circle cx="739.5" cy="335.5" r="5.1" fill="#6c54d6"/><circle cx="714.5" cy="341.5" r="5.1" fill="#9927af"/><circle cx="735.3" cy="327.1" r="5.1" fill="#625adb"/><circle cx="587.5" cy="347.5" r="5.1" fill="#d7008d"/><circle cx="645.6" cy="347.8" r="5.1" fill="#e00086"/><circle cx="681.7" cy="354.3" r="5.1" fill="#6558d9"/><circle cx="602.3" cy="347.6" r="5.1" fill="#f5006d"/><circle cx="663.5" cy="355.8" r="5.1" fill="#883ec2"/><circle cx="740.5" cy="361.5" r="5.1" fill="#764ed0"/><circle cx="547.4" cy="356.9" r="5.1" fill="#f00073"/><circle cx="674.7" cy="356.6" r="5.1" fill="#7052d3"/><circle cx="668.1" cy="347.1" r="5.1" fill="#9a24ae"/><circle cx="660.6" cy="355.6" r="5.1" fill="#236cea"/><circle cx="735.0" cy="324.0" r="5.1" fill="#9d22ac"/><circle cx="564.8" cy="348.0" r="5.1" fill="#fe005d"/><circle cx="710.5" cy="353.3" r="5.1" fill="#7e48ca"/><circle cx="545.2" cy="345.9" r="5.1" fill="#d8008d"/><circle cx="609.1" cy="352.5" r="5.1" fill="#e6007f"/><circle cx="652.5" cy="347.1" r="5.1" fill="#6757d8"/><circle cx="741.0" cy="344.0" r="5.1" fill="#8541c5"/><circle cx="628.4" cy="349.5" r="5.1" fill="#ee0077"/><circle cx="728.7" cy="347.1" r="5.1" fill="#9927af"/><circle cx="631.2" cy="345.6" r="5.1" fill="#f6006b"/><circle cx="596.3" cy="346.4" r="5.1" fill="#d20091"/><circle cx="568.7" cy="347.3" r="5.1" fill="#fd005f"/><circle cx="702.3" cy="354.8" r="5.1" fill="#9233b9"/><circle cx="734.4" cy="366.6" r="5.1" fill="#016fed"/><circle cx="718.8" cy="358.1" r="5.1" fill="#007ef6"/><circle cx="654.2" cy="350.5" r="5.1" fill="#972bb2"/><circle cx="751.6" cy="348.5" r="5.1" fill="#d6008e"/><circle cx="572.2" cy="346.2" r="5.1" fill="#fa0065"/><circle cx="717.5" cy="355.0" r="5.1" fill="#ad14a6"/><circle cx="698.0" cy="356.5" r="5.1" fill="#8640c4"/><circle cx="568.1" cy="354.2" r="5.1" fill="#d6008e"/><circle cx="577.2" cy="353.4" r="5.1" fill="#ff0051"/><circle cx="746.0" cy="343.2" r="5.1" fill="#0077f2"/><circle cx="585.0" cy="352.5" r="5.1" fill="#c2009c"/><circle cx="559.6" cy="352.8" r="5.1" fill="#d8008c"/><circle cx="669.8" cy="353.0" r="5.1" fill="#c70099"/><circle cx="664.6" cy="345.8" r="5.1" fill="#d00093"/><circle cx="636.5" cy="352.9" r="5.1" fill="#d30090"/><circle cx="553.5" cy="349.8" r="5.1" fill="#d9008b"/><circle cx="554.1" cy="355.0" r="5.1" fill="#fa0064"/><circle cx="740.0" cy="355.4" r="5.1" fill="#8c3bbf"/><circle cx="735.7" cy="341.8" r="5.1" fill="#784ccf"/><circle cx="745.1" cy="354.8" r="5.1" fill="#883fc3"/><circle cx="659.1" cy="350.7" r="5.1" fill="#7251d3"/><circle cx="610.3" cy="346.7" r="5.1" fill="#da008b"/><circle cx="683.0" cy="348.6" r="5.1" fill="#8443c6"/><circle cx="556.7" cy="351.0" r="5.1" fill="#f20072"/><circle cx="713.5" cy="360.0" r="5.1" fill="#0078f3"/><circle cx="709.3" cy="350.2" r="5.1" fill="#b605a2"/><circle cx="746.9" cy="365.5" r="5.1" fill="#0077f2"/><circle cx="587.1" cy="353.8" r="5.1" fill="#fa0065"/><circle cx="723.8" cy="361.2" r="5.1" fill="#b30aa3"/><circle cx="617.9" cy="353.6" r="5.1" fill="#b703a1"/><circle cx="552.6" cy="350.5" r="5.1" fill="#d9008c"/><circle cx="734.4" cy="353.0" r="5.1" fill="#8f36bb"/><circle cx="723.1" cy="355.8" r="5.1" fill="#7e48cb"/><circle cx="725.0" cy="348.4" r="5.1" fill="#6c54d6"/><circle cx="709.0" cy="340.8" r="5.1" fill="#5460e0"/><circle cx="706.4" cy="353.3" r="5.1" fill="#7b4acc"/><circle cx="730.3" cy="364.0" r="5.1" fill="#565fdf"/><circle cx="648.8" cy="345.9" r="5.1" fill="#a51ba9"/><circle cx="750.5" cy="354.5" r="5.1" fill="#ed0077"/><circle cx="730.9" cy="341.1" r="5.1" fill="#962db4"/><circle cx="741.1" cy="349.3" r="5.1" fill="#6856d8"/><circle cx="692.2" cy="347.6" r="5.1" fill="#7151d3"/><circle cx="745.7" cy="349.0" r="5.1" fill="#a818a8"/><circle cx="730.3" cy="335.6" r="5.1" fill="#9b24ad"/><circle cx="688.3" cy="355.9" r="5.1" fill="#764ed0"/><circle cx="739.4" cy="376.0" r="5.1" fill="#9926af"/><circle cx="677.5" cy="349.9" r="5.1" fill="#9c23ad"/><circle cx="621.2" cy="354.7" r="5.1" fill="#d30090"/><circle cx="573.5" cy="353.5" r="5.1" fill="#f6006b"/><circle cx="731.7" cy="352.5" r="5.1" fill="#d7008d"/><circle cx="592.1" cy="349.1" r="5.1" fill="#e40081"/><circle cx="560.5" cy="348.0" r="5.1" fill="#ea007b"/><circle cx="664.9" cy="354.2" r="5.1" fill="#7c49cc"/><circle cx="717.8" cy="349.9" r="5.1" fill="#7151d3"/><circle cx="553.4" cy="344.5" r="5.1" fill="#f80069"/><circle cx="739.5" cy="323.0" r="5.1" fill="#9828b0"/><circle cx="678.0" cy="354.5" r="5.1" fill="#883fc2"/><circle cx="747.1" cy="337.6" r="5.1" fill="#9928b0"/><circle cx="677.8" cy="347.5" r="5.1" fill="#6757d8"/><circle cx="605.7" cy="352.3" r="5.1" fill="#c2009b"/><circle cx="656.5" cy="356.2" r="5.1" fill="#ae13a6"/><circle cx="652.3" cy="353.6" r="5.1" fill="#794cce"/><circle cx="692.8" cy="354.6" r="5.1" fill="#754ed0"/><circle cx="718.3" cy="340.3" r="5.1" fill="#9331b7"/><circle cx="591.9" cy="353.8" r="5.1" fill="#e00086"/><circle cx="622.7" cy="346.4" r="5.1" fill="#9f20ab"/><circle cx="735.5" cy="347.2" r="5.1" fill="#7f48ca"/><circle cx="724.5" cy="343.4" r="5.1" fill="#4764e4"/><circle cx="641.2" cy="354.1" r="5.1" fill="#ec0079"/><circle cx="714.5" cy="347.5" r="5.1" fill="#0072ef"/><circle cx="736.2" cy="332.4" r="5.1" fill="#952eb5"/><circle cx="579.5" cy="348.6" r="5.1" fill="#aa17a7"/><circle cx="704.1" cy="342.4" r="5.1" fill="#ad13a6"/><circle cx="550.6" cy="356.5" r="5.1" fill="#ed0078"/><circle cx="629.5" cy="354.5" r="5.1" fill="#bf009d"/><circle cx="718.0" cy="343.4" r="5.1" fill="#9a25ae"/><circle cx="557.7" cy="345.5" r="5.1" fill="#eb007a"/><circle cx="674.5" cy="350.5" r="5.1" fill="#9233b8"/><circle cx="694.0" cy="347.1" r="5.1" fill="#b20da4"/><circle cx="757.2" cy="355.5" r="5.1" fill="#d9008c"/><circle cx="756.3" cy="342.7" r="5.1" fill="#b901a0"/><circle cx="637.5" cy="347.3" r="5.1" fill="#d9008c"/><circle cx="702.1" cy="348.5" r="5.1" fill="#a31daa"/><circle cx="740.2" cy="339.8" r="5.1" fill="#7f48ca"/><circle cx="631.0" cy="351.4" r="5.1" fill="#d5008f"/><circle cx="740.6" cy="367.5" r="5.1" fill="#5e5cdc"/><circle cx="613.5" cy="353.8" r="5.1" fill="#f4006e"/><circle cx="735.1" cy="361.5" r="5.1" fill="#6d54d5"/><circle cx="547.0" cy="350.5" r="5.1" fill="#e40081"/><circle cx="738.9" cy="328.6" r="5.1" fill="#7e48cb"/><circle cx="627.5" cy="345.2" r="5.1" fill="#e10085"/><circle cx="696.3" cy="354.1" r="5.1" fill="#625adb"/><circle cx="647.4" cy="352.8" r="5.1" fill="#ea007c"/><circle cx="763.9" cy="350.0" r="5.1" fill="#b605a2"/><circle cx="600.7" cy="344.5" r="5.1" fill="#f10073"/><circle cx="699.5" cy="351.6" r="5.1" fill="#e00086"/><circle cx="712.4" cy="354.2" r="5.1" fill="#8740c4"/><circle cx="551.4" cy="344.6" r="5.1" fill="#ff005a"/><circle cx="603.8" cy="355.0" r="5.1" fill="#c1009c"/><circle cx="605.7" cy="347.7" r="5.1" fill="#eb007a"/><circle cx="688.4" cy="346.6" r="5.1" fill="#774dd0"/><circle cx="699.3" cy="343.5" r="5.1" fill="#9f20ab"/><circle cx="643.5" cy="352.5" r="5.1" fill="#d9008b"/><circle cx="545.3" cy="349.9" r="5.1" fill="#ea007b"/><circle cx="729.4" cy="357.3" r="5.1" fill="#ae12a6"/><circle cx="675.0" cy="344.4" r="5.1" fill="#972cb3"/><circle cx="562.8" cy="354.5" r="5.1" fill="#bf009d"/><circle cx="706.5" cy="348.1" r="5.1" fill="#8443c6"/><circle cx="597.8" cy="355.4" r="5.1" fill="#ff0051"/><circle cx="709.3" cy="346.2" r="5.1" fill="#6558d9"/><circle cx="358.4" cy="350.9" r="5.1" fill="#fe005c"/><circle cx="408.5" cy="350.9" r="5.1" fill="#fe005c"/><circle cx="419.0" cy="350.9" r="5.1" fill="#fe005c"/><circle cx="435.3" cy="350.9" r="5.1" fill="#fe005c"/><circle cx="438.8" cy="347.0" r="5.1" fill="#fe005c"/><circle cx="442.3" cy="351.9" r="5.1" fill="#fe005c"/><circle cx="452.2" cy="350.9" r="5.1" fill="#fe005c"/><circle cx="455.0" cy="347.0" r="5.1" fill="#fe005c"/><circle cx="460.7" cy="351.9" r="5.1" fill="#fe005c"/><circle cx="467.7" cy="350.9" r="5.1" fill="#fe005c"/><circle cx="487.5" cy="350.9" r="5.1" fill="#e9007c"/><circle cx="497.3" cy="350.9" r="5.1" fill="#f90067"/><circle cx="501.6" cy="346.3" r="5.1" fill="#f90067"/><circle cx="507.2" cy="350.9" r="5.1" fill="#f20072"/><circle cx="512.8" cy="346.3" r="5.1" fill="#f90067"/><circle cx="515.7" cy="353.3" r="5.1" fill="#f90067"/><circle cx="525.5" cy="342.0" r="5.1" fill="#e9007c"/><circle cx="528.4" cy="356.1" r="5.1" fill="#e00086"/><circle cx="534.0" cy="349.1" r="5.1" fill="#e9007c"/><circle cx="541.1" cy="344.9" r="5.1" fill="#e9007c"/><circle cx="541.1" cy="356.1" r="5.1" fill="#e00086"/><circle cx="522.7" cy="350.5" r="5.1" fill="#e9007c"/><circle cx="552.6" cy="350.5" r="5.1" fill="#fe005c"/><circle cx="580.8" cy="349.1" r="5.1" fill="#fe005c"/><circle cx="738.7" cy="323.0" r="5.1" fill="#754fd1"/><circle cx="740.1" cy="378.0" r="5.1" fill="#754fd1"/><circle cx="737.3" cy="371.6" r="5.1" fill="#0084f9"/><circle cx="744.4" cy="332.2" r="5.1" fill="#0084f9"/><circle cx="731.7" cy="335.0" r="5.1" fill="#0084f9"/><circle cx="719.0" cy="360.4" r="5.1" fill="#0086fa"/><circle cx="707.7" cy="344.9" r="5.1" fill="#0084f9"/><circle cx="757.1" cy="359.0" r="5.1" fill="#0084f9"/><circle cx="724.6" cy="353.3" r="5.1" fill="#0084f9"/><circle cx="768.3" cy="349.1" r="5.1" fill="#ab15a7"/><circle cx="741.6" cy="353.3" r="5.1" fill="#bb00a0"/><circle cx="721.8" cy="346.3" r="5.1" fill="#6359da"/><circle cx="683.4" cy="429.1" r="5.1" fill="#b802a1"/><circle cx="715.8" cy="439.4" r="5.1" fill="#fb0064"/><circle cx="662.2" cy="452.3" r="5.1" fill="#784dcf"/><circle cx="728.5" cy="432.7" r="5.1" fill="#fd005f"/><circle cx="628.5" cy="436.2" r="5.1" fill="#008bfb"/><circle cx="768.9" cy="434.6" r="5.1" fill="#ff0058"/><circle cx="645.7" cy="426.9" r="5.1" fill="#6a56d7"/><circle cx="599.8" cy="431.7" r="5.1" fill="#0082f8"/><circle cx="564.7" cy="426.5" r="5.1" fill="#0088fa"/><circle cx="725.5" cy="424.1" r="5.1" fill="#ff005a"/><circle cx="611.8" cy="437.8" r="5.1" fill="#0086fa"/><circle cx="745.6" cy="427.3" r="5.1" fill="#ff0059"/><circle cx="666.8" cy="449.5" r="5.1" fill="#5e5cdc"/><circle cx="729.2" cy="436.1" r="5.1" fill="#ff0057"/><circle cx="600.6" cy="424.9" r="5.1" fill="#0084f9"/><circle cx="789.5" cy="435.9" r="5.1" fill="#ff0051"/><circle cx="656.3" cy="430.6" r="5.1" fill="#5f5bdc"/><circle cx="745.0" cy="432.3" r="5.1" fill="#f6006b"/><circle cx="583.6" cy="428.0" r="5.1" fill="#0084f9"/><circle cx="775.2" cy="436.2" r="5.1" fill="#ff0054"/><circle cx="667.4" cy="426.4" r="5.1" fill="#7f47c9"/><circle cx="667.6" cy="441.4" r="5.1" fill="#6857d8"/><circle cx="677.4" cy="437.7" r="5.1" fill="#744fd1"/><circle cx="662.2" cy="439.1" r="5.1" fill="#4166e5"/><circle cx="784.9" cy="434.6" r="5.1" fill="#ff0059"/><circle cx="595.5" cy="423.5" r="5.1" fill="#0087fa"/><circle cx="730.6" cy="427.6" r="5.1" fill="#fc0061"/><circle cx="671.9" cy="420.2" r="5.1" fill="#5460e0"/><circle cx="694.3" cy="415.9" r="5.1" fill="#c3009b"/><circle cx="693.4" cy="442.4" r="5.1" fill="#c0009d"/><circle cx="650.8" cy="442.0" r="5.1" fill="#754fd1"/><circle cx="687.5" cy="444.1" r="5.1" fill="#b606a2"/><circle cx="688.5" cy="412.7" r="5.1" fill="#b507a2"/><circle cx="661.6" cy="442.2" r="5.1" fill="#7f47c9"/><circle cx="692.8" cy="420.2" r="5.1" fill="#c70098"/><circle cx="549.0" cy="430.1" r="5.1" fill="#0082f8"/><circle cx="686.4" cy="432.6" r="5.1" fill="#b00fa5"/><circle cx="731.5" cy="440.3" r="5.1" fill="#fd005f"/><circle cx="574.9" cy="430.4" r="5.1" fill="#0084f9"/><circle cx="616.6" cy="435.0" r="5.1" fill="#0088fa"/><circle cx="656.5" cy="438.1" r="5.1" fill="#6359da"/><circle cx="549.7" cy="435.3" r="5.1" fill="#0085f9"/><circle cx="700.1" cy="434.3" r="5.1" fill="#be009e"/><circle cx="732.7" cy="428.5" r="5.1" fill="#fe005e"/><circle cx="762.7" cy="436.2" r="5.1" fill="#ff005b"/><circle cx="751.9" cy="425.6" r="5.1" fill="#ff0054"/><circle cx="580.7" cy="430.3" r="5.1" fill="#0089fa"/><circle cx="710.7" cy="428.6" r="5.1" fill="#fe005c"/><circle cx="711.4" cy="435.1" r="5.1" fill="#fc0061"/><circle cx="574.8" cy="437.1" r="5.1" fill="#0083f8"/><circle cx="616.3" cy="429.4" r="5.1" fill="#008bfb"/><circle cx="687.3" cy="409.5" r="5.1" fill="#ae12a6"/><circle cx="681.6" cy="444.3" r="5.1" fill="#b20ca4"/><circle cx="687.5" cy="423.3" r="5.1" fill="#b900a0"/><circle cx="567.2" cy="428.8" r="5.1" fill="#0087fa"/><circle cx="722.9" cy="439.9" r="5.1" fill="#ff005b"/><circle cx="693.2" cy="432.8" r="5.1" fill="#bf009d"/><circle cx="609.8" cy="426.8" r="5.1" fill="#0085f9"/><circle cx="800.8" cy="431.8" r="5.1" fill="#fe005e"/><circle cx="692.3" cy="438.2" r="5.1" fill="#b30ba3"/><circle cx="600.3" cy="436.8" r="5.1" fill="#0084f9"/><circle cx="603.5" cy="432.6" r="5.1" fill="#008afb"/><circle cx="688.9" cy="419.8" r="5.1" fill="#b409a3"/><circle cx="730.0" cy="440.2" r="5.1" fill="#ff0057"/><circle cx="738.9" cy="427.5" r="5.1" fill="#fe005c"/><circle cx="780.1" cy="436.7" r="5.1" fill="#ff0051"/><circle cx="682.0" cy="433.7" r="5.1" fill="#b20ca4"/><circle cx="675.6" cy="421.7" r="5.1" fill="#764ed0"/><circle cx="660.5" cy="408.1" r="5.1" fill="#6558d9"/><circle cx="651.3" cy="422.9" r="5.1" fill="#6e53d5"/><circle cx="752.6" cy="438.4" r="5.1" fill="#fe005d"/><circle cx="605.7" cy="438.6" r="5.1" fill="#008afb"/><circle cx="676.6" cy="443.5" r="5.1" fill="#5f5bdc"/><circle cx="660.3" cy="418.6" r="5.1" fill="#6f53d4"/><circle cx="720.8" cy="428.6" r="5.1" fill="#ff0054"/><circle cx="666.5" cy="436.8" r="5.1" fill="#4c63e3"/><circle cx="704.3" cy="438.2" r="5.1" fill="#d7008d"/><circle cx="765.1" cy="430.5" r="5.1" fill="#ff0057"/><circle cx="667.8" cy="445.2" r="5.1" fill="#7c4acc"/><circle cx="677.2" cy="433.0" r="5.1" fill="#6c54d6"/><circle cx="688.6" cy="453.1" r="5.1" fill="#c0009c"/><circle cx="656.2" cy="416.4" r="5.1" fill="#565fe0"/><circle cx="576.8" cy="436.8" r="5.1" fill="#008bfb"/><circle cx="588.0" cy="429.0" r="5.1" fill="#0089fa"/><circle cx="639.5" cy="435.9" r="5.1" fill="#008bfb"/><circle cx="698.2" cy="437.9" r="5.1" fill="#bb009f"/><circle cx="596.0" cy="435.1" r="5.1" fill="#0085f9"/><circle cx="786.8" cy="431.8" r="5.1" fill="#ff0057"/><circle cx="725.3" cy="440.6" r="5.1" fill="#ff005a"/><circle cx="575.8" cy="429.8" r="5.1" fill="#0088fa"/><circle cx="568.5" cy="429.0" r="5.1" fill="#008bfb"/><circle cx="682.8" cy="450.2" r="5.1" fill="#ab15a7"/><circle cx="650.1" cy="438.3" r="5.1" fill="#4e62e2"/><circle cx="740.0" cy="435.2" r="5.1" fill="#fd005f"/><circle cx="796.7" cy="432.3" r="5.1" fill="#ff0057"/><circle cx="635.6" cy="436.5" r="5.1" fill="#0089fa"/><circle cx="689.1" cy="428.2" r="5.1" fill="#c4009a"/><circle cx="563.6" cy="431.8" r="5.1" fill="#0089fa"/><circle cx="622.5" cy="435.6" r="5.1" fill="#008afb"/><circle cx="730.0" cy="422.9" r="5.1" fill="#ff0051"/><circle cx="649.9" cy="428.6" r="5.1" fill="#6e53d5"/><circle cx="661.8" cy="413.2" r="5.1" fill="#575fdf"/><circle cx="757.3" cy="436.3" r="5.1" fill="#ff0051"/><circle cx="625.6" cy="435.4" r="5.1" fill="#0081f8"/><circle cx="622.1" cy="428.5" r="5.1" fill="#0082f8"/><circle cx="661.0" cy="422.4" r="5.1" fill="#7251d2"/><circle cx="570.9" cy="435.3" r="5.1" fill="#008afb"/><circle cx="562.0" cy="437.0" r="5.1" fill="#0081f7"/><circle cx="646.2" cy="431.8" r="5.1" fill="#7251d2"/><circle cx="742.8" cy="427.8" r="5.1" fill="#ff0059"/><circle cx="666.2" cy="415.5" r="5.1" fill="#3669e8"/><circle cx="692.6" cy="426.4" r="5.1" fill="#c3009b"/><circle cx="692.7" cy="449.2" r="5.1" fill="#c80098"/><circle cx="671.2" cy="437.3" r="5.1" fill="#883fc2"/><circle cx="715.5" cy="433.2" r="5.1" fill="#fd005e"/><circle cx="725.6" cy="436.0" r="5.1" fill="#fb0062"/><circle cx="561.8" cy="439.1" r="5.1" fill="#0088fa"/><circle cx="554.6" cy="435.4" r="5.1" fill="#0087fa"/><circle cx="681.5" cy="417.2" r="5.1" fill="#b30ba3"/><circle cx="583.2" cy="434.4" r="5.1" fill="#0089fa"/><circle cx="661.9" cy="448.5" r="5.1" fill="#585edf"/><circle cx="727.4" cy="418.2" r="5.1" fill="#ff0059"/><circle cx="567.8" cy="437.4" r="5.1" fill="#0088fa"/><circle cx="665.9" cy="430.8" r="5.1" fill="#565fdf"/><circle cx="792.9" cy="430.3" r="5.1" fill="#ff0055"/><circle cx="640.8" cy="429.4" r="5.1" fill="#0086f9"/><circle cx="553.9" cy="430.4" r="5.1" fill="#0088fa"/><circle cx="721.7" cy="434.0" r="5.1" fill="#ff0058"/><circle cx="714.8" cy="427.6" r="5.1" fill="#ff0051"/><circle cx="610.8" cy="433.2" r="5.1" fill="#0087fa"/><circle cx="632.9" cy="431.5" r="5.1" fill="#0081f7"/><circle cx="780.2" cy="431.1" r="5.1" fill="#fe005c"/><circle cx="656.4" cy="419.8" r="5.1" fill="#774dd0"/><circle cx="683.3" cy="411.8" r="5.1" fill="#ca0096"/><circle cx="711.8" cy="424.4" r="5.1" fill="#fe005d"/><circle cx="742.3" cy="440.3" r="5.1" fill="#ff0055"/><circle cx="597.2" cy="431.0" r="5.1" fill="#0083f8"/><circle cx="682.1" cy="439.8" r="5.1" fill="#c80098"/><circle cx="768.8" cy="432.1" r="5.1" fill="#fb0062"/><circle cx="700.7" cy="444.0" r="5.1" fill="#ca0097"/><circle cx="805.6" cy="433.2" r="5.1" fill="#ff0052"/><circle cx="727.2" cy="430.6" r="5.1" fill="#ff005b"/><circle cx="599.6" cy="442.5" r="5.1" fill="#008bfb"/><circle cx="699.2" cy="424.9" r="5.1" fill="#c4009a"/><circle cx="681.5" cy="424.5" r="5.1" fill="#cc0095"/><circle cx="792.3" cy="436.0" r="5.1" fill="#ff0059"/><circle cx="776.0" cy="431.8" r="5.1" fill="#fc0061"/><circle cx="661.9" cy="427.4" r="5.1" fill="#7350d2"/><circle cx="593.7" cy="431.7" r="5.1" fill="#0082f8"/><circle cx="672.1" cy="445.0" r="5.1" fill="#744fd1"/><circle cx="650.8" cy="431.8" r="5.1" fill="#8245c7"/><circle cx="594.6" cy="436.8" r="5.1" fill="#0085f9"/><circle cx="582.3" cy="435.9" r="5.1" fill="#008bfb"/><circle cx="726.6" cy="446.1" r="5.1" fill="#fe005c"/><circle cx="700.4" cy="420.1" r="5.1" fill="#dd0088"/><circle cx="693.0" cy="452.6" r="5.1" fill="#b900a0"/><circle cx="671.3" cy="427.7" r="5.1" fill="#5e5bdc"/><circle cx="655.3" cy="425.6" r="5.1" fill="#5e5bdc"/><circle cx="750.5" cy="433.3" r="5.1" fill="#ff0055"/><circle cx="560.7" cy="431.2" r="5.1" fill="#0083f8"/><circle cx="704.1" cy="425.5" r="5.1" fill="#c80098"/><circle cx="586.4" cy="436.3" r="5.1" fill="#0089fa"/><circle cx="666.4" cy="420.9" r="5.1" fill="#8245c7"/><circle cx="698.5" cy="428.8" r="5.1" fill="#b20ca4"/><circle cx="593.4" cy="428.4" r="5.1" fill="#008bfb"/><circle cx="765.4" cy="436.3" r="5.1" fill="#fa0064"/><circle cx="656.7" cy="443.5" r="5.1" fill="#4d62e2"/><circle cx="661.0" cy="432.4" r="5.1" fill="#6658d9"/><circle cx="672.9" cy="432.2" r="5.1" fill="#575edf"/><circle cx="783.9" cy="432.1" r="5.1" fill="#ff0057"/><circle cx="656.0" cy="447.1" r="5.1" fill="#8443c6"/><circle cx="738.5" cy="440.2" r="5.1" fill="#ff005b"/><circle cx="744.9" cy="438.0" r="5.1" fill="#fe005c"/><circle cx="560.2" cy="424.7" r="5.1" fill="#0088fa"/><circle cx="628.4" cy="430.7" r="5.1" fill="#008bfb"/><circle cx="709.6" cy="440.6" r="5.1" fill="#ff0051"/><circle cx="758.2" cy="428.0" r="5.1" fill="#ff0051"/><circle cx="604.6" cy="427.3" r="5.1" fill="#008bfb"/><circle cx="731.6" cy="433.4" r="5.1" fill="#fc0060"/><circle cx="686.6" cy="448.0" r="5.1" fill="#b802a1"/><circle cx="742.8" cy="432.3" r="5.1" fill="#ff0051"/><circle cx="559.1" cy="435.1" r="5.1" fill="#008bfb"/><circle cx="688.4" cy="439.6" r="5.1" fill="#b010a5"/><circle cx="705.9" cy="431.7" r="5.1" fill="#d8008d"/><circle cx="645.1" cy="438.0" r="5.1" fill="#5d5cdd"/><circle cx="624.5" cy="430.7" r="5.1" fill="#0082f8"/><circle cx="763.6" cy="429.9" r="5.1" fill="#fa0065"/><circle cx="676.2" cy="427.2" r="5.1" fill="#5161e1"/><circle cx="479.1" cy="433.9" r="5.1" fill="#0088fa"/><circle cx="494.6" cy="433.9" r="5.1" fill="#0088fa"/><circle cx="499.6" cy="433.9" r="5.1" fill="#0088fa"/><circle cx="513.0" cy="433.9" r="5.1" fill="#0088fa"/><circle cx="518.6" cy="433.9" r="5.1" fill="#0088fa"/><circle cx="524.2" cy="433.9" r="5.1" fill="#0088fa"/><circle cx="529.9" cy="429.3" r="5.1" fill="#0088fa"/><circle cx="534.1" cy="433.9" r="5.1" fill="#0088fa"/><circle cx="536.9" cy="428.6" r="5.1" fill="#0088fa"/><circle cx="539.8" cy="433.9" r="5.1" fill="#0088fa"/><circle cx="688.0" cy="408.1" r="5.1" fill="#8443c6"/><circle cx="688.0" cy="410.9" r="5.1" fill="#754fd1"/><circle cx="661.2" cy="406.7" r="5.1" fill="#6a55d7"/><circle cx="660.5" cy="456.1" r="5.1" fill="#6a55d7"/><circle cx="792.2" cy="519.5" r="5.1" fill="#007af4"/><circle cx="753.1" cy="520.6" r="5.1" fill="#008bfb"/><circle cx="632.6" cy="497.1" r="5.1" fill="#ff0051"/><circle cx="644.2" cy="511.1" r="5.1" fill="#ff005b"/><circle cx="783.4" cy="520.9" r="5.1" fill="#0086fa"/><circle cx="711.1" cy="516.9" r="5.1" fill="#0080f7"/><circle cx="624.5" cy="502.8" r="5.1" fill="#fe005d"/><circle cx="647.4" cy="499.1" r="5.1" fill="#ff0051"/><circle cx="741.9" cy="513.5" r="5.1" fill="#3b68e7"/><circle cx="641.1" cy="515.2" r="5.1" fill="#ff0055"/><circle cx="645.9" cy="530.1" r="5.1" fill="#ff0052"/><circle cx="749.0" cy="515.7" r="5.1" fill="#0071ee"/><circle cx="784.0" cy="512.5" r="5.1" fill="#0089fa"/><circle cx="617.4" cy="523.0" r="5.1" fill="#ff0055"/><circle cx="704.3" cy="513.2" r="5.1" fill="#0080f7"/><circle cx="634.4" cy="503.8" r="5.1" fill="#fb0064"/><circle cx="712.3" cy="511.8" r="5.1" fill="#0080f7"/><circle cx="638.3" cy="496.9" r="5.1" fill="#ff005a"/><circle cx="640.9" cy="506.5" r="5.1" fill="#fe005c"/><circle cx="648.8" cy="520.0" r="5.1" fill="#ff0051"/><circle cx="700.4" cy="516.2" r="5.1" fill="#a71aa8"/><circle cx="707.2" cy="519.0" r="5.1" fill="#0085f9"/><circle cx="776.4" cy="520.5" r="5.1" fill="#0076f1"/><circle cx="741.4" cy="519.5" r="5.1" fill="#2d6be9"/><circle cx="757.9" cy="518.5" r="5.1" fill="#0085f9"/><circle cx="723.4" cy="514.6" r="5.1" fill="#007af4"/><circle cx="693.6" cy="513.4" r="5.1" fill="#9b23ad"/><circle cx="653.1" cy="522.2" r="5.1" fill="#ad14a6"/><circle cx="632.7" cy="519.2" r="5.1" fill="#ff0059"/><circle cx="753.0" cy="513.2" r="5.1" fill="#0081f7"/><circle cx="627.8" cy="514.9" r="5.1" fill="#ff0051"/><circle cx="640.1" cy="519.4" r="5.1" fill="#ff0058"/><circle cx="682.8" cy="519.8" r="5.1" fill="#9927b0"/><circle cx="623.4" cy="518.8" r="5.1" fill="#ff0051"/><circle cx="628.5" cy="529.2" r="5.1" fill="#ff0053"/><circle cx="642.3" cy="490.3" r="5.1" fill="#ff0055"/><circle cx="632.8" cy="492.8" r="5.1" fill="#f90067"/><circle cx="668.9" cy="515.3" r="5.1" fill="#a21eaa"/><circle cx="734.8" cy="520.8" r="5.1" fill="#0078f2"/><circle cx="658.8" cy="524.5" r="5.1" fill="#9926af"/><circle cx="747.6" cy="519.8" r="5.1" fill="#0077f2"/><circle cx="641.1" cy="501.6" r="5.1" fill="#fd005e"/><circle cx="720.1" cy="514.4" r="5.1" fill="#0086fa"/><circle cx="734.2" cy="517.7" r="5.1" fill="#0086fa"/><circle cx="635.9" cy="523.3" r="5.1" fill="#ff0051"/><circle cx="637.8" cy="500.6" r="5.1" fill="#ff0059"/><circle cx="692.8" cy="519.7" r="5.1" fill="#a61ba9"/><circle cx="681.9" cy="519.6" r="5.1" fill="#a71aa8"/><circle cx="645.0" cy="533.3" r="5.1" fill="#fe005e"/><circle cx="687.7" cy="512.0" r="5.1" fill="#9828b0"/><circle cx="758.2" cy="514.4" r="5.1" fill="#0086f9"/><circle cx="641.5" cy="525.9" r="5.1" fill="#ff0055"/><circle cx="779.0" cy="512.7" r="5.1" fill="#007ff7"/><circle cx="727.9" cy="513.2" r="5.1" fill="#008bfb"/><circle cx="775.3" cy="513.1" r="5.1" fill="#0080f7"/><circle cx="647.5" cy="516.7" r="5.1" fill="#ff005b"/><circle cx="640.7" cy="540.8" r="5.1" fill="#fd0060"/><circle cx="764.4" cy="514.1" r="5.1" fill="#0075f1"/><circle cx="669.5" cy="510.3" r="5.1" fill="#9d22ac"/><circle cx="780.2" cy="520.0" r="5.1" fill="#0085f9"/><circle cx="635.6" cy="533.9" r="5.1" fill="#ff0051"/><circle cx="631.3" cy="514.5" r="5.1" fill="#ff0056"/><circle cx="737.5" cy="513.3" r="5.1" fill="#007af4"/><circle cx="706.2" cy="513.3" r="5.1" fill="#007ef6"/><circle cx="712.5" cy="514.0" r="5.1" fill="#008bfb"/><circle cx="651.5" cy="511.8" r="5.1" fill="#942fb5"/><circle cx="750.0" cy="510.9" r="5.1" fill="#0082f8"/><circle cx="626.4" cy="524.3" r="5.1" fill="#ff0054"/><circle cx="646.8" cy="505.9" r="5.1" fill="#ff005b"/><circle cx="626.5" cy="509.2" r="5.1" fill="#ff0055"/><circle cx="794.3" cy="517.1" r="5.1" fill="#0088fa"/><circle cx="711.7" cy="520.9" r="5.1" fill="#0080f7"/><circle cx="669.5" cy="521.2" r="5.1" fill="#9829b1"/><circle cx="796.0" cy="515.0" r="5.1" fill="#0073f0"/><circle cx="644.7" cy="499.8" r="5.1" fill="#ff0051"/><circle cx="658.7" cy="512.6" r="5.1" fill="#9c22ac"/><circle cx="704.0" cy="520.0" r="5.1" fill="#0072ef"/><circle cx="663.7" cy="523.5" r="5.1" fill="#a61ba9"/><circle cx="635.9" cy="518.2" r="5.1" fill="#fe005c"/><circle cx="659.5" cy="517.1" r="5.1" fill="#9b24ad"/><circle cx="709.9" cy="515.6" r="5.1" fill="#0082f8"/><circle cx="766.1" cy="517.9" r="5.1" fill="#3968e7"/><circle cx="623.2" cy="515.0" r="5.1" fill="#fe005e"/><circle cx="632.7" cy="534.2" r="5.1" fill="#ff0051"/><circle cx="626.2" cy="535.5" r="5.1" fill="#ff0055"/><circle cx="644.7" cy="514.2" r="5.1" fill="#fd005e"/><circle cx="684.6" cy="510.9" r="5.1" fill="#a819a8"/><circle cx="627.6" cy="499.9" r="5.1" fill="#ff0059"/><circle cx="628.2" cy="521.0" r="5.1" fill="#ff0053"/><circle cx="636.8" cy="491.3" r="5.1" fill="#ff005b"/><circle cx="636.9" cy="506.8" r="5.1" fill="#fd005f"/><circle cx="618.8" cy="516.9" r="5.1" fill="#ff0059"/><circle cx="631.4" cy="528.6" r="5.1" fill="#ff0058"/><circle cx="770.0" cy="513.9" r="5.1" fill="#1a6deb"/><circle cx="770.6" cy="519.5" r="5.1" fill="#605adb"/><circle cx="619.9" cy="511.7" r="5.1" fill="#ff0057"/><circle cx="738.6" cy="520.9" r="5.1" fill="#5560e0"/><circle cx="640.7" cy="536.1" r="5.1" fill="#fc0061"/><circle cx="623.1" cy="529.1" r="5.1" fill="#fb0062"/><circle cx="647.0" cy="523.6" r="5.1" fill="#ff0059"/><circle cx="675.2" cy="519.3" r="5.1" fill="#a51ba9"/><circle cx="647.4" cy="510.7" r="5.1" fill="#ff0059"/><circle cx="652.0" cy="515.5" r="5.1" fill="#a31daa"/><circle cx="715.2" cy="513.5" r="5.1" fill="#007ef6"/><circle cx="635.8" cy="527.3" r="5.1" fill="#ff005b"/><circle cx="713.8" cy="519.0" r="5.1" fill="#0084f9"/><circle cx="635.7" cy="538.4" r="5.1" fill="#ff005a"/><circle cx="787.3" cy="520.2" r="5.1" fill="#0083f8"/><circle cx="663.0" cy="514.8" r="5.1" fill="#9a26af"/><circle cx="676.7" cy="512.5" r="5.1" fill="#a21eaa"/><circle cx="720.4" cy="518.6" r="5.1" fill="#008bfb"/><circle cx="699.0" cy="518.8" r="5.1" fill="#962db3"/><circle cx="790.5" cy="513.8" r="5.1" fill="#008bfb"/><circle cx="707.3" cy="511.6" r="5.1" fill="#007bf4"/><circle cx="632.1" cy="538.6" r="5.1" fill="#ff0051"/><circle cx="686.4" cy="514.9" r="5.1" fill="#972bb2"/><circle cx="631.8" cy="523.2" r="5.1" fill="#ff005b"/><circle cx="773.2" cy="514.7" r="5.1" fill="#3569e8"/><circle cx="785.6" cy="512.9" r="5.1" fill="#007bf4"/><circle cx="646.8" cy="525.7" r="5.1" fill="#ff005a"/><circle cx="622.6" cy="507.7" r="5.1" fill="#ff0054"/><circle cx="633.8" cy="507.9" r="5.1" fill="#ff005b"/><circle cx="767.2" cy="519.9" r="5.1" fill="#007cf5"/><circle cx="731.7" cy="511.6" r="5.1" fill="#007ff7"/><circle cx="663.3" cy="519.1" r="5.1" fill="#9c22ad"/><circle cx="640.0" cy="545.9" r="5.1" fill="#ff0058"/><circle cx="637.3" cy="544.1" r="5.1" fill="#fd005e"/><circle cx="731.9" cy="516.3" r="5.1" fill="#2a6bea"/><circle cx="640.9" cy="511.1" r="5.1" fill="#fa0065"/><circle cx="759.7" cy="513.1" r="5.1" fill="#0080f7"/><circle cx="702.8" cy="518.9" r="5.1" fill="#008bfb"/><circle cx="750.3" cy="520.8" r="5.1" fill="#0071ee"/><circle cx="662.4" cy="509.7" r="5.1" fill="#a61aa9"/><circle cx="642.6" cy="496.7" r="5.1" fill="#ff0059"/><circle cx="747.4" cy="514.1" r="5.1" fill="#0074f0"/><circle cx="718.8" cy="520.2" r="5.1" fill="#3968e7"/><circle cx="627.3" cy="504.9" r="5.1" fill="#ff0059"/><circle cx="623.8" cy="524.7" r="5.1" fill="#ff005a"/><circle cx="722.9" cy="518.8" r="5.1" fill="#0088fa"/><circle cx="640.4" cy="529.8" r="5.1" fill="#ff0059"/><circle cx="706.2" cy="513.0" r="5.1" fill="#0085f9"/><circle cx="707.7" cy="519.6" r="5.1" fill="#0088fa"/><circle cx="682.2" cy="513.3" r="5.1" fill="#9a25ae"/><circle cx="647.2" cy="532.1" r="5.1" fill="#ff0051"/><circle cx="686.4" cy="518.7" r="5.1" fill="#9829b1"/><circle cx="760.8" cy="518.2" r="5.1" fill="#007ef6"/><circle cx="644.8" cy="520.1" r="5.1" fill="#fc0061"/><circle cx="635.9" cy="512.3" r="5.1" fill="#ff0056"/><circle cx="726.7" cy="520.7" r="5.1" fill="#007ef6"/><circle cx="731.1" cy="520.5" r="5.1" fill="#0085f9"/><circle cx="644.0" cy="495.1" r="5.1" fill="#fe005d"/><circle cx="645.8" cy="504.3" r="5.1" fill="#fe005d"/><circle cx="721.2" cy="514.4" r="5.1" fill="#007ef6"/><circle cx="735.2" cy="512.6" r="5.1" fill="#236cea"/><circle cx="717.3" cy="519.7" r="5.1" fill="#0078f3"/><circle cx="658.5" cy="508.1" r="5.1" fill="#9828b0"/><circle cx="532.0" cy="516.2" r="5.1" fill="#ff0058"/><circle cx="548.2" cy="516.2" r="5.1" fill="#ff0058"/><circle cx="553.9" cy="516.2" r="5.1" fill="#fe005c"/><circle cx="558.1" cy="516.2" r="5.1" fill="#e00086"/><circle cx="563.7" cy="516.2" r="5.1" fill="#fe005c"/><circle cx="569.4" cy="513.7" r="5.1" fill="#fe005c"/><circle cx="572.2" cy="517.9" r="5.1" fill="#fe005c"/><circle cx="577.8" cy="516.2" r="5.1" fill="#fe005c"/><circle cx="583.5" cy="516.2" r="5.1" fill="#fe005c"/><circle cx="590.5" cy="513.7" r="5.1" fill="#fe005c"/><circle cx="594.8" cy="516.2" r="5.1" fill="#d5008f"/><circle cx="599.0" cy="516.2" r="5.1" fill="#fe005c"/><circle cx="604.6" cy="516.2" r="5.1" fill="#fe005c"/><circle cx="610.3" cy="513.7" r="5.1" fill="#fe005c"/><circle cx="613.1" cy="516.2" r="5.1" fill="#d5008f"/><circle cx="636.4" cy="546.1" r="5.1" fill="#9b23ad"/><circle cx="666.7" cy="526.4" r="5.1" fill="#9b23ad"/><circle cx="808.0" cy="516.5" r="5.1" fill="#4b63e3"/><circle cx="818.0" cy="516.5" r="5.1" fill="#007cf5"/><circle cx="823.0" cy="516.5" r="5.1" fill="#236cea"/><circle cx="833.0" cy="516.5" r="5.1" fill="#4b63e3"/><circle cx="710.0" cy="511.0" r="5.1" fill="#0084f9"/><circle cx="732.0" cy="511.0" r="5.1" fill="#0084f9"/><circle cx="747.0" cy="511.0" r="5.1" fill="#4b63e3"/><circle cx="785.0" cy="511.0" r="5.1" fill="#0084f9"/><circle cx="708.0" cy="521.0" r="5.1" fill="#4b63e3"/><circle cx="732.0" cy="522.0" r="5.1" fill="#0084f9"/><circle cx="745.0" cy="521.0" r="5.1" fill="#4b63e3"/><circle cx="783.0" cy="521.0" r="5.1" fill="#0084f9"/><circle cx="889.7" cy="516.2" r="5.1" fill="#0088fa"/><circle cx="891.9" cy="515.1" r="5.1" fill="#0088fa"/><circle cx="906.7" cy="516.2" r="5.1" fill="#0088fa"/><circle cx="925.7" cy="516.2" r="5.1" fill="#0088fa"/><circle cx="941.2" cy="515.1" r="5.1" fill="#0088fa"/><circle cx="941.2" cy="517.2" r="5.1" fill="#0088fa"/><circle cx="996.9" cy="516.2" r="5.1" fill="#0088fa"/><circle cx="650.4" cy="605.5" r="5.1" fill="#bc009f"/><circle cx="634.3" cy="582.5" r="5.1" fill="#dc0089"/><circle cx="626.9" cy="607.3" r="5.1" fill="#b10da4"/><circle cx="716.1" cy="598.6" r="5.1" fill="#7052d4"/><circle cx="643.2" cy="581.8" r="5.1" fill="#b803a1"/><circle cx="721.2" cy="592.9" r="5.1" fill="#d6008e"/><circle cx="639.0" cy="593.3" r="5.1" fill="#d00093"/><circle cx="704.9" cy="584.8" r="5.1" fill="#0077f2"/><circle cx="661.6" cy="597.2" r="5.1" fill="#a71aa9"/><circle cx="628.9" cy="575.6" r="5.1" fill="#b010a5"/><circle cx="694.5" cy="592.2" r="5.1" fill="#9d21ac"/><circle cx="634.9" cy="612.7" r="5.1" fill="#9d21ac"/><circle cx="748.9" cy="601.2" r="5.1" fill="#972ab1"/><circle cx="725.0" cy="604.3" r="5.1" fill="#c1009c"/><circle cx="623.5" cy="580.0" r="5.1" fill="#c0009d"/><circle cx="647.7" cy="595.5" r="5.1" fill="#dc0089"/><circle cx="622.1" cy="586.1" r="5.1" fill="#c80098"/><circle cx="683.1" cy="598.2" r="5.1" fill="#744fd1"/><circle cx="663.3" cy="599.5" r="5.1" fill="#8c3abe"/><circle cx="684.8" cy="591.8" r="5.1" fill="#9430b6"/><circle cx="609.6" cy="598.6" r="5.1" fill="#f90067"/><circle cx="740.4" cy="600.0" r="5.1" fill="#8640c4"/><circle cx="697.4" cy="603.7" r="5.1" fill="#8641c4"/><circle cx="683.3" cy="588.8" r="5.1" fill="#952eb4"/><circle cx="719.1" cy="604.5" r="5.1" fill="#a51ba9"/><circle cx="764.1" cy="599.8" r="5.1" fill="#007ef6"/><circle cx="664.4" cy="593.9" r="5.1" fill="#a61ba9"/><circle cx="622.1" cy="592.0" r="5.1" fill="#ca0096"/><circle cx="725.3" cy="599.7" r="5.1" fill="#e10084"/><circle cx="636.7" cy="586.8" r="5.1" fill="#9927b0"/><circle cx="653.8" cy="591.6" r="5.1" fill="#9829b1"/><circle cx="678.3" cy="591.3" r="5.1" fill="#bc009f"/><circle cx="728.4" cy="595.7" r="5.1" fill="#0079f3"/><circle cx="664.6" cy="603.6" r="5.1" fill="#a31daa"/><circle cx="711.9" cy="601.3" r="5.1" fill="#9b24ae"/><circle cx="655.2" cy="600.3" r="5.1" fill="#8e38bc"/><circle cx="607.8" cy="593.9" r="5.1" fill="#d7008d"/><circle cx="686.3" cy="606.3" r="5.1" fill="#784ccf"/><circle cx="765.3" cy="594.6" r="5.1" fill="#4066e6"/><circle cx="638.8" cy="613.8" r="5.1" fill="#9d21ac"/><circle cx="672.2" cy="596.5" r="5.1" fill="#5e5bdc"/><circle cx="639.0" cy="608.4" r="5.1" fill="#bf009d"/><circle cx="606.7" cy="593.7" r="5.1" fill="#e6007f"/><circle cx="642.9" cy="586.6" r="5.1" fill="#b704a2"/><circle cx="745.1" cy="594.7" r="5.1" fill="#f20071"/><circle cx="673.1" cy="591.4" r="5.1" fill="#7e48ca"/><circle cx="637.3" cy="603.6" r="5.1" fill="#b40aa3"/><circle cx="680.1" cy="603.3" r="5.1" fill="#9829b1"/><circle cx="668.4" cy="603.3" r="5.1" fill="#9134b9"/><circle cx="628.9" cy="596.3" r="5.1" fill="#c3009b"/><circle cx="702.6" cy="590.5" r="5.1" fill="#7052d4"/><circle cx="685.6" cy="601.0" r="5.1" fill="#942fb5"/><circle cx="627.7" cy="593.0" r="5.1" fill="#ab16a7"/><circle cx="758.7" cy="595.0" r="5.1" fill="#e40082"/><circle cx="627.8" cy="587.4" r="5.1" fill="#c5009a"/><circle cx="730.9" cy="601.5" r="5.1" fill="#615adb"/><circle cx="628.8" cy="581.1" r="5.1" fill="#c0009d"/><circle cx="677.8" cy="597.2" r="5.1" fill="#9d21ac"/><circle cx="634.2" cy="576.6" r="5.1" fill="#bf009d"/><circle cx="632.2" cy="571.2" r="5.1" fill="#aa17a7"/><circle cx="707.9" cy="590.7" r="5.1" fill="#3769e7"/><circle cx="724.0" cy="595.0" r="5.1" fill="#d00093"/><circle cx="612.1" cy="599.3" r="5.1" fill="#e8007d"/><circle cx="638.9" cy="582.6" r="5.1" fill="#cf0093"/><circle cx="689.2" cy="593.8" r="5.1" fill="#883ec2"/><circle cx="619.1" cy="597.1" r="5.1" fill="#e40081"/><circle cx="632.2" cy="597.3" r="5.1" fill="#c1009c"/><circle cx="712.2" cy="595.5" r="5.1" fill="#a719a8"/><circle cx="622.9" cy="613.8" r="5.1" fill="#9b24ad"/><circle cx="687.8" cy="598.7" r="5.1" fill="#8443c6"/><circle cx="661.0" cy="589.2" r="5.1" fill="#a61ba9"/><circle cx="644.8" cy="614.7" r="5.1" fill="#bb009f"/><circle cx="702.8" cy="609.5" r="5.1" fill="#585edf"/><circle cx="633.9" cy="586.4" r="5.1" fill="#d9008b"/><circle cx="632.5" cy="619.9" r="5.1" fill="#a819a8"/><circle cx="753.7" cy="594.9" r="5.1" fill="#8740c4"/><circle cx="638.2" cy="578.2" r="5.1" fill="#c60099"/><circle cx="644.0" cy="607.3" r="5.1" fill="#c60099"/><circle cx="650.0" cy="589.9" r="5.1" fill="#e30082"/><circle cx="667.7" cy="590.1" r="5.1" fill="#4665e4"/><circle cx="649.8" cy="600.6" r="5.1" fill="#d40090"/><circle cx="643.4" cy="598.2" r="5.1" fill="#a61aa9"/><circle cx="704.6" cy="605.6" r="5.1" fill="#3868e7"/><circle cx="697.0" cy="589.1" r="5.1" fill="#9926af"/><circle cx="654.6" cy="595.8" r="5.1" fill="#972ab1"/><circle cx="633.0" cy="604.1" r="5.1" fill="#ce0094"/><circle cx="622.7" cy="602.4" r="5.1" fill="#b801a1"/><circle cx="666.4" cy="598.5" r="5.1" fill="#774dcf"/><circle cx="626.8" cy="603.7" r="5.1" fill="#ca0097"/><circle cx="638.1" cy="598.3" r="5.1" fill="#c0009d"/><circle cx="650.2" cy="585.0" r="5.1" fill="#f5006c"/><circle cx="690.1" cy="601.9" r="5.1" fill="#a51ca9"/><circle cx="667.5" cy="595.1" r="5.1" fill="#a51ba9"/><circle cx="694.3" cy="597.5" r="5.1" fill="#8c3abe"/><circle cx="610.9" cy="592.7" r="5.1" fill="#f4006e"/><circle cx="655.5" cy="604.4" r="5.1" fill="#9232b8"/><circle cx="705.2" cy="595.4" r="5.1" fill="#6e53d5"/><circle cx="698.1" cy="598.4" r="5.1" fill="#a020ab"/><circle cx="697.6" cy="594.8" r="5.1" fill="#6459da"/><circle cx="690.6" cy="594.1" r="5.1" fill="#bc009f"/><circle cx="718.2" cy="591.3" r="5.1" fill="#0079f3"/><circle cx="708.0" cy="604.3" r="5.1" fill="#7251d2"/><circle cx="739.3" cy="595.9" r="5.1" fill="#ae12a5"/><circle cx="619.2" cy="591.7" r="5.1" fill="#c4009a"/><circle cx="618.2" cy="602.2" r="5.1" fill="#d00093"/><circle cx="683.3" cy="607.7" r="5.1" fill="#585edf"/><circle cx="716.9" cy="604.1" r="5.1" fill="#0070ed"/><circle cx="603.7" cy="604.6" r="5.1" fill="#f10072"/><circle cx="606.1" cy="599.2" r="5.1" fill="#ef0075"/><circle cx="734.3" cy="603.5" r="5.1" fill="#007cf5"/><circle cx="673.8" cy="586.5" r="5.1" fill="#6a55d7"/><circle cx="711.2" cy="591.3" r="5.1" fill="#962db3"/><circle cx="721.7" cy="598.6" r="5.1" fill="#e00085"/><circle cx="735.5" cy="596.0" r="5.1" fill="#0076f1"/><circle cx="759.3" cy="602.3" r="5.1" fill="#e10084"/><circle cx="705.5" cy="600.5" r="5.1" fill="#555fe0"/><circle cx="644.5" cy="602.2" r="5.1" fill="#a918a8"/><circle cx="634.8" cy="608.7" r="5.1" fill="#bf009d"/><circle cx="664.8" cy="589.9" r="5.1" fill="#9331b7"/><circle cx="622.9" cy="607.4" r="5.1" fill="#c60099"/><circle cx="660.7" cy="601.1" r="5.1" fill="#9e21ac"/><circle cx="637.7" cy="617.4" r="5.1" fill="#c60099"/><circle cx="611.3" cy="605.1" r="5.1" fill="#f00073"/><circle cx="634.3" cy="593.0" r="5.1" fill="#972ab2"/><circle cx="710.0" cy="604.4" r="5.1" fill="#a41caa"/><circle cx="750.1" cy="594.1" r="5.1" fill="#8a3cc0"/><circle cx="623.5" cy="597.2" r="5.1" fill="#cb0096"/><circle cx="707.2" cy="596.8" r="5.1" fill="#3c67e6"/><circle cx="745.7" cy="601.3" r="5.1" fill="#eb0079"/><circle cx="765.6" cy="603.5" r="5.1" fill="#0070ed"/><circle cx="609.2" cy="605.3" r="5.1" fill="#f6006b"/><circle cx="627.2" cy="618.5" r="5.1" fill="#de0087"/><circle cx="642.0" cy="590.7" r="5.1" fill="#be009d"/><circle cx="753.8" cy="602.2" r="5.1" fill="#9828b0"/><circle cx="671.7" cy="601.8" r="5.1" fill="#595edf"/><circle cx="626.5" cy="613.7" r="5.1" fill="#b605a2"/><circle cx="694.1" cy="603.3" r="5.1" fill="#b506a2"/><circle cx="582.0" cy="599.2" r="5.1" fill="#f20072"/><circle cx="588.3" cy="599.2" r="5.1" fill="#f20072"/><circle cx="594.0" cy="599.2" r="5.1" fill="#e9007c"/><circle cx="599.6" cy="599.2" r="5.1" fill="#f20072"/><circle cx="643.3" cy="612.2" r="5.1" fill="#754fd1"/><circle cx="654.6" cy="603.7" r="5.1" fill="#0084f9"/><circle cx="705.4" cy="598.1" r="5.1" fill="#fe005c"/><circle cx="684.2" cy="585.4" r="5.1" fill="#6359da"/><circle cx="705.4" cy="585.4" r="5.1" fill="#236cea"/><circle cx="704.0" cy="609.4" r="5.1" fill="#0074f0"/><circle cx="722.3" cy="602.3" r="5.1" fill="#fe005c"/><circle cx="746.3" cy="598.1" r="5.1" fill="#fe005c"/><circle cx="764.6" cy="605.1" r="5.1" fill="#fe005c"/><circle cx="764.6" cy="593.9" r="5.1" fill="#0084f9"/><circle cx="735.0" cy="600.9" r="5.1" fill="#0084f9"/><circle cx="661.7" cy="589.6" r="5.1" fill="#fe005c"/><circle cx="770.8" cy="595.3" r="5.1" fill="#0084f9"/><circle cx="770.8" cy="600.9" r="5.1" fill="#0084f9"/><circle cx="776.4" cy="598.1" r="5.1" fill="#f90067"/><circle cx="779.2" cy="593.9" r="5.1" fill="#0084f9"/><circle cx="786.3" cy="593.9" r="5.1" fill="#0084f9"/><circle cx="787.7" cy="599.5" r="5.1" fill="#0084f9"/><circle cx="793.3" cy="599.5" r="5.1" fill="#0084f9"/><circle cx="667.3" cy="672.4" r="5.1" fill="#316ae9"/><circle cx="743.1" cy="678.0" r="5.1" fill="#008afb"/><circle cx="655.7" cy="676.2" r="5.1" fill="#a819a8"/><circle cx="657.5" cy="694.4" r="5.1" fill="#8245c8"/><circle cx="650.3" cy="687.7" r="5.1" fill="#b802a1"/><circle cx="621.6" cy="679.1" r="5.1" fill="#d6008e"/><circle cx="725.9" cy="683.9" r="5.1" fill="#008bfb"/><circle cx="698.0" cy="684.5" r="5.1" fill="#3a68e7"/><circle cx="682.1" cy="675.4" r="5.1" fill="#ae12a5"/><circle cx="698.8" cy="683.5" r="5.1" fill="#3c67e7"/><circle cx="662.5" cy="659.1" r="5.1" fill="#a61aa9"/><circle cx="663.6" cy="669.9" r="5.1" fill="#794cce"/><circle cx="666.8" cy="678.3" r="5.1" fill="#8542c5"/><circle cx="661.9" cy="685.6" r="5.1" fill="#c3009b"/><circle cx="704.0" cy="675.0" r="5.1" fill="#5360e0"/><circle cx="568.3" cy="686.3" r="5.1" fill="#ea007b"/><circle cx="584.7" cy="684.4" r="5.1" fill="#ff0051"/><circle cx="700.1" cy="677.3" r="5.1" fill="#007df6"/><circle cx="639.5" cy="677.2" r="5.1" fill="#df0086"/><circle cx="747.2" cy="679.1" r="5.1" fill="#0080f7"/><circle cx="644.9" cy="699.5" r="5.1" fill="#c70098"/><circle cx="657.3" cy="706.5" r="5.1" fill="#9134b9"/><circle cx="660.2" cy="680.4" r="5.1" fill="#b605a2"/><circle cx="650.4" cy="678.1" r="5.1" fill="#e9007c"/><circle cx="668.6" cy="662.2" r="5.1" fill="#aa17a7"/><circle cx="622.0" cy="684.0" r="5.1" fill="#e60080"/><circle cx="590.0" cy="685.0" r="5.1" fill="#f30070"/><circle cx="673.3" cy="693.8" r="5.1" fill="#8542c5"/><circle cx="568.7" cy="675.3" r="5.1" fill="#ff0051"/><circle cx="633.2" cy="675.5" r="5.1" fill="#e9007c"/><circle cx="737.3" cy="676.5" r="5.1" fill="#0084f9"/><circle cx="602.8" cy="677.9" r="5.1" fill="#ff0058"/><circle cx="593.0" cy="677.6" r="5.1" fill="#ff0053"/><circle cx="723.1" cy="674.6" r="5.1" fill="#3469e8"/><circle cx="572.0" cy="677.1" r="5.1" fill="#f00074"/><circle cx="655.1" cy="680.8" r="5.1" fill="#9233b9"/><circle cx="655.2" cy="670.1" r="5.1" fill="#bb009f"/><circle cx="737.0" cy="680.7" r="5.1" fill="#0088fa"/><circle cx="648.5" cy="703.5" r="5.1" fill="#e60080"/><circle cx="645.2" cy="673.5" r="5.1" fill="#ca0097"/><circle cx="646.0" cy="679.0" r="5.1" fill="#ac15a7"/><circle cx="573.8" cy="684.1" r="5.1" fill="#fb0064"/><circle cx="659.7" cy="670.5" r="5.1" fill="#b606a2"/><circle cx="690.8" cy="680.4" r="5.1" fill="#007bf4"/><circle cx="677.5" cy="672.4" r="5.1" fill="#3369e8"/><circle cx="563.1" cy="677.0" r="5.1" fill="#ff0051"/><circle cx="681.4" cy="685.7" r="5.1" fill="#6956d7"/><circle cx="565.3" cy="680.7" r="5.1" fill="#f10073"/><circle cx="672.1" cy="669.3" r="5.1" fill="#b604a2"/><circle cx="645.4" cy="668.6" r="5.1" fill="#c60099"/><circle cx="677.1" cy="681.7" r="5.1" fill="#a31daa"/><circle cx="655.3" cy="706.8" r="5.1" fill="#952eb4"/><circle cx="731.6" cy="676.4" r="5.1" fill="#007bf4"/><circle cx="667.6" cy="683.1" r="5.1" fill="#7d49cb"/><circle cx="658.9" cy="660.6" r="5.1" fill="#a31daa"/><circle cx="722.0" cy="687.6" r="5.1" fill="#7a4bcd"/><circle cx="584.0" cy="679.3" r="5.1" fill="#ff0051"/><circle cx="697.8" cy="677.4" r="5.1" fill="#0080f7"/><circle cx="645.8" cy="688.1" r="5.1" fill="#8146c9"/><circle cx="667.1" cy="667.5" r="5.1" fill="#6856d8"/><circle cx="558.3" cy="685.6" r="5.1" fill="#f20072"/><circle cx="568.0" cy="679.9" r="5.1" fill="#ff0051"/><circle cx="674.9" cy="691.5" r="5.1" fill="#605bdc"/><circle cx="708.1" cy="685.2" r="5.1" fill="#007bf5"/><circle cx="631.5" cy="686.3" r="5.1" fill="#fc0061"/><circle cx="650.4" cy="664.0" r="5.1" fill="#b605a2"/><circle cx="657.7" cy="690.5" r="5.1" fill="#ca0096"/><circle cx="578.0" cy="684.8" r="5.1" fill="#ff0054"/><circle cx="672.6" cy="677.3" r="5.1" fill="#aa17a7"/><circle cx="721.1" cy="681.0" r="5.1" fill="#2d6be9"/><circle cx="646.0" cy="692.5" r="5.1" fill="#b40aa3"/><circle cx="654.6" cy="666.3" r="5.1" fill="#972ab2"/><circle cx="607.3" cy="684.5" r="5.1" fill="#fb0063"/><circle cx="561.7" cy="678.6" r="5.1" fill="#ee0076"/><circle cx="680.9" cy="681.3" r="5.1" fill="#7151d3"/><circle cx="650.9" cy="672.7" r="5.1" fill="#a917a8"/><circle cx="579.7" cy="685.7" r="5.1" fill="#ff0051"/><circle cx="686.0" cy="676.7" r="5.1" fill="#8640c4"/><circle cx="662.0" cy="665.6" r="5.1" fill="#b408a3"/><circle cx="655.1" cy="702.2" r="5.1" fill="#c80098"/><circle cx="634.0" cy="688.8" r="5.1" fill="#ed0077"/><circle cx="733.9" cy="685.2" r="5.1" fill="#008bfb"/><circle cx="691.4" cy="675.2" r="5.1" fill="#276cea"/><circle cx="672.4" cy="682.5" r="5.1" fill="#7a4bce"/><circle cx="666.6" cy="695.3" r="5.1" fill="#8541c5"/><circle cx="557.9" cy="677.8" r="5.1" fill="#f00074"/><circle cx="707.4" cy="676.1" r="5.1" fill="#0070ed"/><circle cx="734.7" cy="681.9" r="5.1" fill="#007ff6"/><circle cx="663.9" cy="702.1" r="5.1" fill="#8e38bc"/><circle cx="747.0" cy="684.4" r="5.1" fill="#0081f7"/><circle cx="559.1" cy="686.2" r="5.1" fill="#f4006e"/><circle cx="742.5" cy="684.7" r="5.1" fill="#5d5cdd"/><circle cx="702.7" cy="681.2" r="5.1" fill="#0074f0"/><circle cx="616.3" cy="678.6" r="5.1" fill="#ee0077"/><circle cx="610.7" cy="679.0" r="5.1" fill="#ee0076"/><circle cx="726.2" cy="676.4" r="5.1" fill="#0071ee"/><circle cx="562.5" cy="684.9" r="5.1" fill="#e60080"/><circle cx="668.1" cy="689.0" r="5.1" fill="#7d49cc"/><circle cx="672.4" cy="688.0" r="5.1" fill="#8641c4"/><circle cx="643.6" cy="684.2" r="5.1" fill="#a11fab"/><circle cx="650.5" cy="669.6" r="5.1" fill="#9e21ac"/><circle cx="628.3" cy="685.9" r="5.1" fill="#dc0089"/><circle cx="608.6" cy="678.2" r="5.1" fill="#ff0054"/><circle cx="660.2" cy="655.7" r="5.1" fill="#9233b8"/><circle cx="590.4" cy="679.1" r="5.1" fill="#dc0089"/><circle cx="580.8" cy="678.2" r="5.1" fill="#fe005d"/><circle cx="603.1" cy="685.0" r="5.1" fill="#e10084"/><circle cx="645.0" cy="663.9" r="5.1" fill="#ab16a7"/><circle cx="714.3" cy="685.7" r="5.1" fill="#0088fa"/><circle cx="667.6" cy="700.3" r="5.1" fill="#a51ba9"/><circle cx="650.5" cy="694.6" r="5.1" fill="#de0087"/><circle cx="630.3" cy="676.8" r="5.1" fill="#ef0076"/><circle cx="662.4" cy="675.3" r="5.1" fill="#7151d3"/><circle cx="633.8" cy="682.0" r="5.1" fill="#f5006d"/><circle cx="575.8" cy="677.8" r="5.1" fill="#e20084"/><circle cx="640.9" cy="682.3" r="5.1" fill="#c70099"/><circle cx="652.8" cy="654.7" r="5.1" fill="#8e38bc"/><circle cx="658.3" cy="664.2" r="5.1" fill="#be009e"/><circle cx="594.9" cy="679.3" r="5.1" fill="#ff0051"/><circle cx="649.6" cy="682.7" r="5.1" fill="#b901a0"/><circle cx="629.8" cy="681.4" r="5.1" fill="#ff0055"/><circle cx="676.6" cy="677.2" r="5.1" fill="#6857d8"/><circle cx="654.7" cy="661.2" r="5.1" fill="#b010a5"/><circle cx="658.1" cy="700.9" r="5.1" fill="#e8007e"/><circle cx="671.7" cy="672.3" r="5.1" fill="#5161e1"/><circle cx="710.0" cy="679.6" r="5.1" fill="#6e53d5"/><circle cx="738.9" cy="688.2" r="5.1" fill="#575fdf"/><circle cx="592.7" cy="684.4" r="5.1" fill="#ff0055"/><circle cx="649.6" cy="698.2" r="5.1" fill="#9f20ab"/><circle cx="691.9" cy="685.6" r="5.1" fill="#6956d7"/><circle cx="684.8" cy="684.6" r="5.1" fill="#6359da"/><circle cx="614.9" cy="683.0" r="5.1" fill="#e6007f"/><circle cx="595.8" cy="684.7" r="5.1" fill="#fb0062"/><circle cx="646.0" cy="703.1" r="5.1" fill="#b10ea4"/><circle cx="650.8" cy="659.6" r="5.1" fill="#bb00a0"/><circle cx="640.2" cy="688.6" r="5.1" fill="#e8007e"/><circle cx="661.8" cy="681.9" r="5.1" fill="#9331b7"/><circle cx="676.3" cy="687.7" r="5.1" fill="#9233b8"/><circle cx="611.4" cy="683.0" r="5.1" fill="#ff0051"/><circle cx="662.5" cy="697.4" r="5.1" fill="#ce0094"/><circle cx="713.2" cy="677.6" r="5.1" fill="#3868e7"/><circle cx="653.4" cy="692.9" r="5.1" fill="#b704a1"/><circle cx="657.4" cy="676.2" r="5.1" fill="#a31daa"/><circle cx="714.9" cy="682.2" r="5.1" fill="#007cf5"/><circle cx="652.7" cy="685.9" r="5.1" fill="#c0009d"/><circle cx="653.6" cy="697.3" r="5.1" fill="#bd009e"/><circle cx="664.0" cy="691.7" r="5.1" fill="#6c54d6"/><circle cx="703.1" cy="683.8" r="5.1" fill="#8443c6"/><circle cx="628.0" cy="679.6" r="5.1" fill="#ef0075"/><circle cx="659.8" cy="685.5" r="5.1" fill="#b802a1"/><circle cx="499.8" cy="681.8" r="5.1" fill="#fe005c"/><circle cx="536.5" cy="681.8" r="5.1" fill="#f20072"/><circle cx="550.6" cy="681.8" r="5.1" fill="#fe005c"/><circle cx="684.7" cy="679.0" r="5.1" fill="#fe005c"/><circle cx="666.2" cy="681.8" r="5.1" fill="#c80098"/><circle cx="668.1" cy="671.7" r="5.1" fill="#6359da"/><circle cx="657.0" cy="701.2" r="5.1" fill="#6359da"/><circle cx="660.7" cy="664.3" r="5.1" fill="#9135ba"/><circle cx="647.7" cy="656.9" r="5.1" fill="#754fd1"/><circle cx="633.9" cy="678.1" r="5.1" fill="#8443c6"/><circle cx="645.0" cy="668.9" r="5.1" fill="#6359da"/><circle cx="677.3" cy="674.4" r="5.1" fill="#6359da"/><circle cx="664.4" cy="689.2" r="5.1" fill="#6359da"/><circle cx="768.3" cy="681.8" r="5.1" fill="#0084f9"/><circle cx="772.6" cy="681.8" r="5.1" fill="#0084f9"/><circle cx="795.1" cy="681.8" r="5.1" fill="#0084f9"/></g>
<rect x="661.35" y="20" width="3.7" height="745" fill="#999"/>
<rect x="217.6" y="763.9" width="1020.4" height="2" fill="#000"/>
<rect x="314.60" y="764" width="2.1" height="10.6" rx="1" fill="#000"/>
<rect x="430.45" y="764" width="2.1" height="10.6" rx="1" fill="#000"/>
<rect x="546.30" y="764" width="2.1" height="10.6" rx="1" fill="#000"/>
<rect x="662.15" y="764" width="2.1" height="10.6" rx="1" fill="#000"/>
<rect x="778.00" y="764" width="2.1" height="10.6" rx="1" fill="#000"/>
<rect x="893.85" y="764" width="2.1" height="10.6" rx="1" fill="#000"/>
<rect x="1009.70" y="764" width="2.1" height="10.6" rx="1" fill="#000"/>
<rect x="1125.55" y="764" width="2.1" height="10.6" rx="1" fill="#000"/>
<text transform="matrix(1.1186 0 0 1 281.41 806.00)" font-size="31.50" fill="#333">−0.3</text>
<text transform="matrix(1.1186 0 0 1 397.26 806.00)" font-size="31.50" fill="#333">−0.2</text>
<text transform="matrix(1.1186 0 0 1 513.11 806.00)" font-size="31.50" fill="#333">−0.1</text>
<text transform="matrix(1.0333 0 0 1 640.97 806.00)" font-size="31.50" fill="#333">0.0</text>
<text transform="matrix(1.0333 0 0 1 757.33 806.00)" font-size="31.50" fill="#333">0.1</text>
<text transform="matrix(1.0333 0 0 1 873.18 806.00)" font-size="31.50" fill="#333">0.2</text>
<text transform="matrix(1.0333 0 0 1 989.03 806.00)" font-size="31.50" fill="#333">0.3</text>
<text transform="matrix(1.0333 0 0 1 1104.37 806.00)" font-size="31.50" fill="#333">0.4</text>
<text transform="matrix(0.9543 0 0 1 83.54 116.00)" font-size="36.20" fill="#333">BAR</text>
<text transform="matrix(0.9022 0 0 1 111.20 198.77)" font-size="36.20" fill="#333">SE</text>
<text transform="matrix(1.0400 0 0 1 118.78 281.54)" font-size="36.20" fill="#333">UI</text>
<text transform="matrix(0.9111 0 0 1 111.18 364.31)" font-size="36.20" fill="#333">SS</text>
<text transform="matrix(1.1037 0 0 1 2.19 447.08)" font-size="36.20" fill="#333">Midnight</text>
<text transform="matrix(0.9783 0 0 1 82.87 529.85)" font-size="36.20" fill="#333">BEN</text>
<text transform="matrix(0.9897 0 0 1 122.62 612.62)" font-size="36.20" fill="#333">SI</text>
<text transform="matrix(0.9578 0 0 1 107.33 695.39)" font-size="36.20" fill="#333">PN</text>
<text transform="matrix(1.0753 0 0 1 398.65 850.00)" font-size="36.60" fill="#000">SHAP value (impact on model output)</text>
<rect x="1300.1" y="20" width="9.5" height="744.4" fill="url(#cb)"/>
<text transform="matrix(1.0197 0 0 1 1318.84 31.10)" font-size="32.00" fill="#000">High</text>
<text transform="matrix(0.9536 0 0 1 1318.94 776.20)" font-size="32.00" fill="#000">Low</text>
<text transform="translate(1410.9 502.69) rotate(-90) scale(1.0634 1)" font-size="33.70" fill="#000">Feature value</text>
</svg></body></html>
